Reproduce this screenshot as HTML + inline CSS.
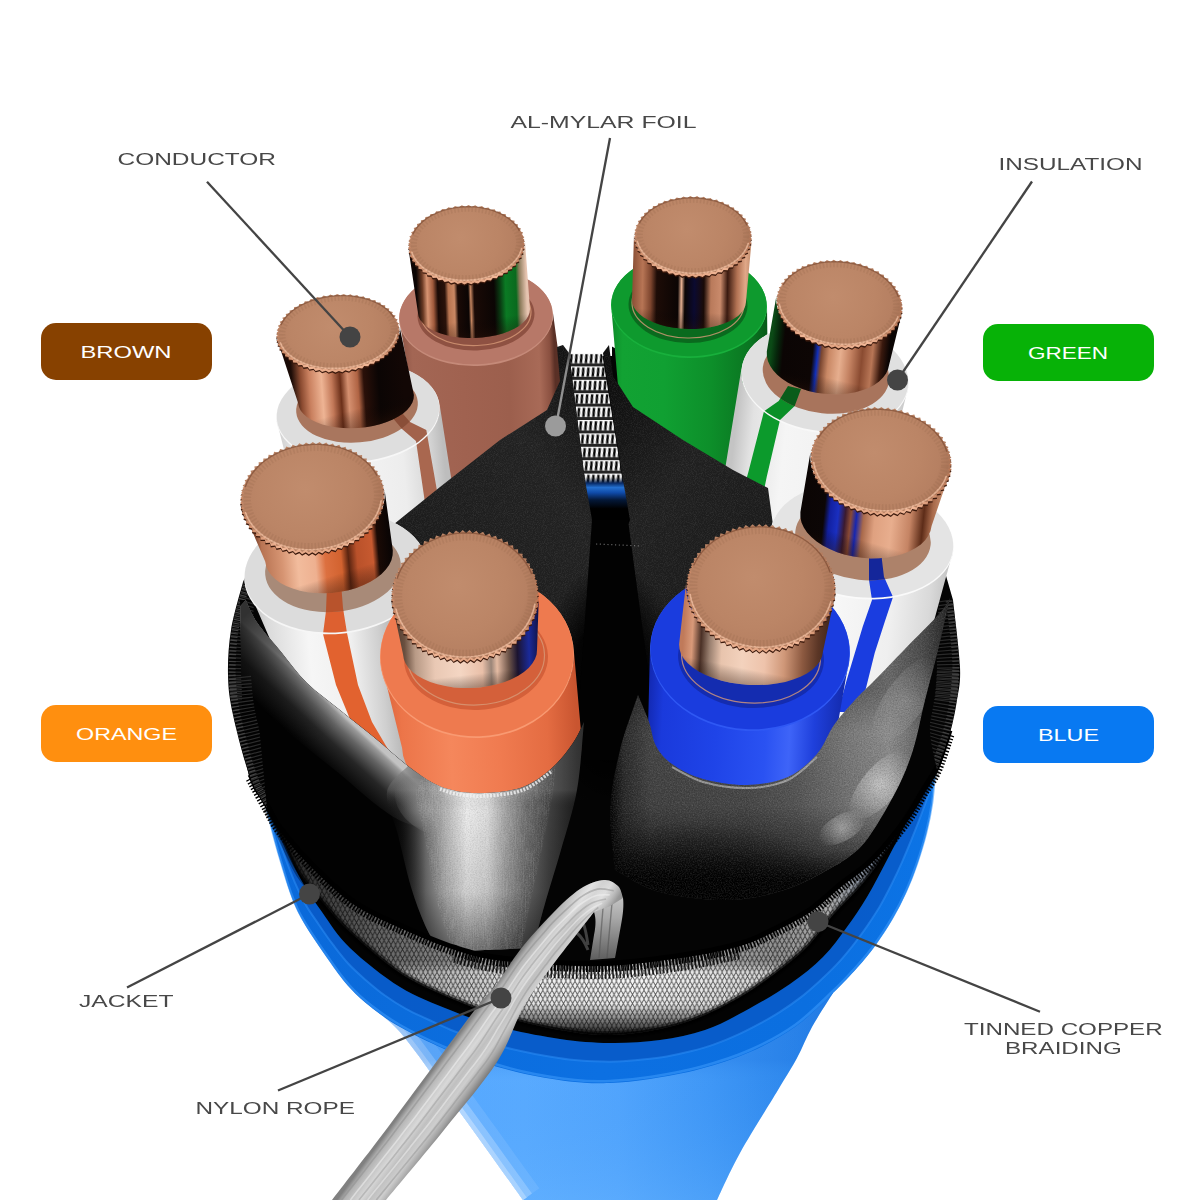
<!DOCTYPE html>
<html lang="en">
<head>
<meta charset="utf-8">
<title>Cable structure</title>
<style>
html,body{margin:0;padding:0;background:#fff;}
body{width:1200px;height:1200px;overflow:hidden;font-family:'Liberation Sans',sans-serif;}
svg{display:block;}
</style>
</head>
<body>
<svg width="1200" height="1200" viewBox="0 0 1200 1200">
<defs>
<linearGradient id="lg1" gradientUnits="userSpaceOnUse" x1="276.3" y1="419.1" x2="439.7" y2="404.9"><stop offset="0%" stop-color="#cfcfcf"/><stop offset="10%" stop-color="#e6e6e6"/><stop offset="35%" stop-color="#f6f6f6"/><stop offset="75%" stop-color="#ededed"/><stop offset="92%" stop-color="#d4d4d4"/><stop offset="100%" stop-color="#bdbdbd"/></linearGradient>
<clipPath id="cp2"><path d="M276.3,419.1 L303.3,526.7 L304.4,532.4 L306.9,537.8 L310.6,543 L315.5,547.7 L321.5,552 L328.5,555.7 L336.3,558.9 L345,561.3 L354.2,563.1 L363.9,564.1 L373.8,564.3 L383.8,563.8 L393.8,562.6 L403.6,560.6 L412.9,557.9 L421.7,554.6 L429.7,550.7 L437,546.2 L443.2,541.4 L448.3,536.1 L452.3,530.6 L455.1,524.9 L456.6,519.1 L456.7,513.3 L439.7,404.9 L439.6,411.4 L438,418 L435.1,424.5 L430.9,430.7 L425.5,436.7 L418.8,442.2 L411.2,447.2 L402.6,451.6 L393.3,455.3 L383.4,458.3 L373,460.5 L362.4,461.8 L351.7,462.3 L341.1,462 L330.8,460.8 L320.9,458.7 L311.7,455.9 L303.3,452.3 L295.8,448 L289.4,443.1 L284.2,437.7 L280.2,431.8 L277.6,425.6Z"/></clipPath>
<clipPath id="cp3"><ellipse cx="358" cy="412" rx="81.5" ry="49.2" transform="rotate(-5 358 412)" /></clipPath>
<clipPath id="cp4"><ellipse cx="357" cy="407" rx="61" ry="35.5" transform="rotate(-5 357 407)" /></clipPath>
<linearGradient id="lg5" gradientUnits="userSpaceOnUse" x1="276.2" y1="336.3" x2="399.8" y2="327.7"><stop offset="0%" stop-color="#140806"/><stop offset="10%" stop-color="#1c0c07"/><stop offset="17%" stop-color="#8a4a30"/><stop offset="24%" stop-color="#c9805f"/><stop offset="34%" stop-color="#eeb494"/><stop offset="42%" stop-color="#c27858"/><stop offset="49%" stop-color="#6b2f19"/><stop offset="55%" stop-color="#d59070"/><stop offset="63%" stop-color="#b06444"/><stop offset="68%" stop-color="#2a1009"/><stop offset="80%" stop-color="#0b0504"/><stop offset="100%" stop-color="#120705"/></linearGradient>
<linearGradient id="lg6" gradientUnits="userSpaceOnUse" x1="338" y1="354.8" x2="358" y2="427.9"><stop offset="0%" stop-color="#000" stop-opacity="0"/><stop offset="75%" stop-color="#000" stop-opacity="0"/><stop offset="100%" stop-color="#2a1208" stop-opacity="0.35"/></linearGradient>
<linearGradient id="lg7" gradientUnits="userSpaceOnUse" x1="276.2" y1="336.3" x2="399.8" y2="327.7"><stop offset="0%" stop-color="#c98663"/><stop offset="25%" stop-color="#f0b595"/><stop offset="50%" stop-color="#e3a482"/><stop offset="75%" stop-color="#f2b898"/><stop offset="100%" stop-color="#b87452"/></linearGradient>
<radialGradient id="rg8" gradientUnits="userSpaceOnUse" cx="331.8" cy="326.3" r="68.2"><stop offset="0%" stop-color="#c18c6d"/><stop offset="60%" stop-color="#bb8566"/><stop offset="85%" stop-color="#b68062"/><stop offset="100%" stop-color="#a97457"/></radialGradient>
<linearGradient id="lg9" gradientUnits="userSpaceOnUse" x1="399" y1="318.7" x2="553" y2="313.3"><stop offset="0%" stop-color="#8d5546"/><stop offset="8%" stop-color="#a36654"/><stop offset="40%" stop-color="#a06250"/><stop offset="70%" stop-color="#9c5f4d"/><stop offset="90%" stop-color="#a86a57"/><stop offset="97%" stop-color="#8a5040"/><stop offset="100%" stop-color="#5a3026"/></linearGradient>
<linearGradient id="lg10" gradientUnits="userSpaceOnUse" x1="408" y1="245.5" x2="525" y2="241.5"><stop offset="0%" stop-color="#100605"/><stop offset="6%" stop-color="#0b0504"/><stop offset="11%" stop-color="#6a3a24"/><stop offset="15%" stop-color="#d89472"/><stop offset="20%" stop-color="#a05a3c"/><stop offset="24%" stop-color="#1a0a06"/><stop offset="30%" stop-color="#2a120a"/><stop offset="33%" stop-color="#b87450"/><stop offset="38%" stop-color="#c98763"/><stop offset="41%" stop-color="#1a0a06"/><stop offset="50%" stop-color="#0b0504"/><stop offset="52%" stop-color="#c58560"/><stop offset="55%" stop-color="#1a0a06"/><stop offset="72%" stop-color="#0b0504"/><stop offset="77%" stop-color="#0a3a12"/><stop offset="82%" stop-color="#0b7a24"/><stop offset="91%" stop-color="#0a6a1e"/><stop offset="94%" stop-color="#8a7a5a"/><stop offset="100%" stop-color="#e6c4b0"/></linearGradient>
<linearGradient id="lg11" gradientUnits="userSpaceOnUse" x1="466.5" y1="266.6" x2="474.9" y2="338"><stop offset="0%" stop-color="#000" stop-opacity="0"/><stop offset="75%" stop-color="#000" stop-opacity="0"/><stop offset="100%" stop-color="#2a1208" stop-opacity="0.35"/></linearGradient>
<linearGradient id="lg12" gradientUnits="userSpaceOnUse" x1="408" y1="245.5" x2="525" y2="241.5"><stop offset="0%" stop-color="#c98663"/><stop offset="25%" stop-color="#f0b595"/><stop offset="50%" stop-color="#e3a482"/><stop offset="75%" stop-color="#f2b898"/><stop offset="100%" stop-color="#b87452"/></linearGradient>
<radialGradient id="rg13" gradientUnits="userSpaceOnUse" cx="460.6" cy="237.7" r="64.4"><stop offset="0%" stop-color="#c18c6d"/><stop offset="60%" stop-color="#bb8566"/><stop offset="85%" stop-color="#b68062"/><stop offset="100%" stop-color="#a97457"/></radialGradient>
<linearGradient id="lg14" gradientUnits="userSpaceOnUse" x1="611" y1="303.6" x2="767" y2="306.4"><stop offset="0%" stop-color="#0d8a28"/><stop offset="8%" stop-color="#12a233"/><stop offset="35%" stop-color="#10a032"/><stop offset="65%" stop-color="#0d8f2a"/><stop offset="90%" stop-color="#0a7521"/><stop offset="100%" stop-color="#075a18"/></linearGradient>
<linearGradient id="lg15" gradientUnits="userSpaceOnUse" x1="634" y1="234.5" x2="752" y2="236.5"><stop offset="0%" stop-color="#8e5238"/><stop offset="8%" stop-color="#b77555"/><stop offset="15%" stop-color="#7d452e"/><stop offset="20%" stop-color="#1d0c07"/><stop offset="38%" stop-color="#0b0504"/><stop offset="41%" stop-color="#e6b092"/><stop offset="44%" stop-color="#0b0504"/><stop offset="52%" stop-color="#0b0a30"/><stop offset="60%" stop-color="#1a0b07"/><stop offset="66%" stop-color="#b97a5b"/><stop offset="74%" stop-color="#c98a6b"/><stop offset="80%" stop-color="#3a1a10"/><stop offset="88%" stop-color="#b27253"/><stop offset="95%" stop-color="#e0a888"/><stop offset="100%" stop-color="#c08a6a"/></linearGradient>
<linearGradient id="lg16" gradientUnits="userSpaceOnUse" x1="693" y1="259.2" x2="688.5" y2="329"><stop offset="0%" stop-color="#000" stop-opacity="0"/><stop offset="75%" stop-color="#000" stop-opacity="0"/><stop offset="100%" stop-color="#2a1208" stop-opacity="0.35"/></linearGradient>
<linearGradient id="lg17" gradientUnits="userSpaceOnUse" x1="634" y1="234.5" x2="752" y2="236.5"><stop offset="0%" stop-color="#c98663"/><stop offset="25%" stop-color="#f0b595"/><stop offset="50%" stop-color="#e3a482"/><stop offset="75%" stop-color="#f2b898"/><stop offset="100%" stop-color="#b87452"/></linearGradient>
<radialGradient id="rg18" gradientUnits="userSpaceOnUse" cx="687.1" cy="229.6" r="64.9"><stop offset="0%" stop-color="#c18c6d"/><stop offset="60%" stop-color="#bb8566"/><stop offset="85%" stop-color="#b68062"/><stop offset="100%" stop-color="#a97457"/></radialGradient>
<linearGradient id="lg19" gradientUnits="userSpaceOnUse" x1="741.5" y1="368.2" x2="908.5" y2="385.8"><stop offset="0%" stop-color="#c4c4c4"/><stop offset="10%" stop-color="#e2e2e2"/><stop offset="30%" stop-color="#f5f5f5"/><stop offset="70%" stop-color="#f0f0f0"/><stop offset="90%" stop-color="#dcdcdc"/><stop offset="100%" stop-color="#c8c8c8"/></linearGradient>
<clipPath id="cp20"><path d="M741.5,368.2 L721.4,491.7 L721.4,498.3 L722.8,504.9 L725.4,511.4 L729.3,517.7 L734.5,523.7 L740.7,529.3 L748,534.4 L756.2,538.9 L765.1,542.8 L774.6,545.9 L784.6,548.2 L794.8,549.7 L805.1,550.4 L815.3,550.2 L825.2,549.1 L834.8,547.2 L843.7,544.5 L851.9,541 L859.1,536.8 L865.4,532 L870.6,526.7 L874.5,520.8 L877.2,514.7 L878.6,508.3 L908.5,385.8 L907.1,392.8 L904.2,399.6 L900,406 L894.5,412 L887.8,417.3 L880,421.9 L871.3,425.7 L861.8,428.8 L851.7,430.9 L841.1,432.1 L830.2,432.4 L819.3,431.7 L808.4,430.1 L797.8,427.6 L787.7,424.2 L778.3,420 L769.6,415.1 L761.9,409.5 L755.2,403.3 L749.8,396.7 L745.6,389.8 L742.8,382.7 L741.4,375.4Z"/></clipPath>
<clipPath id="cp21"><ellipse cx="825" cy="377" rx="83.5" ry="54.2" transform="rotate(6 825 377)" /></clipPath>
<clipPath id="cp22"><ellipse cx="826" cy="374" rx="63.5" ry="39.5" transform="rotate(6 826 374)" /></clipPath>
<linearGradient id="lg23" gradientUnits="userSpaceOnUse" x1="776.3" y1="296.4" x2="902.7" y2="309.6"><stop offset="0%" stop-color="#0b4a16"/><stop offset="5%" stop-color="#06260b"/><stop offset="10%" stop-color="#0b0504"/><stop offset="33%" stop-color="#0d0605"/><stop offset="37%" stop-color="#1230b8"/><stop offset="40%" stop-color="#7a4630"/><stop offset="46%" stop-color="#c98865"/><stop offset="55%" stop-color="#e6ae8e"/><stop offset="63%" stop-color="#c48262"/><stop offset="72%" stop-color="#8a4b31"/><stop offset="80%" stop-color="#b87656"/><stop offset="87%" stop-color="#3a190e"/><stop offset="93%" stop-color="#0b0504"/><stop offset="100%" stop-color="#0b0504"/></linearGradient>
<linearGradient id="lg24" gradientUnits="userSpaceOnUse" x1="839.5" y1="328.8" x2="824.2" y2="393.8"><stop offset="0%" stop-color="#000" stop-opacity="0"/><stop offset="75%" stop-color="#000" stop-opacity="0"/><stop offset="100%" stop-color="#2a1208" stop-opacity="0.35"/></linearGradient>
<linearGradient id="lg25" gradientUnits="userSpaceOnUse" x1="776.3" y1="296.4" x2="902.7" y2="309.6"><stop offset="0%" stop-color="#c98663"/><stop offset="25%" stop-color="#f0b595"/><stop offset="50%" stop-color="#e3a482"/><stop offset="75%" stop-color="#f2b898"/><stop offset="100%" stop-color="#b87452"/></linearGradient>
<radialGradient id="rg26" gradientUnits="userSpaceOnUse" cx="833.1" cy="296.6" r="69.9"><stop offset="0%" stop-color="#c18c6d"/><stop offset="60%" stop-color="#bb8566"/><stop offset="85%" stop-color="#b68062"/><stop offset="100%" stop-color="#a97457"/></radialGradient>
<linearGradient id="lg27" gradientUnits="userSpaceOnUse" x1="770.5" y1="530.4" x2="953.5" y2="549.6"><stop offset="0%" stop-color="#c9c9c9"/><stop offset="15%" stop-color="#e8e8e8"/><stop offset="40%" stop-color="#f7f7f7"/><stop offset="70%" stop-color="#efefef"/><stop offset="90%" stop-color="#d9d9d9"/><stop offset="100%" stop-color="#c2c2c2"/></linearGradient>
<clipPath id="cp28"><path d="M770.5,530.4 L748.5,671.2 L748.4,678.3 L749.8,685.4 L752.7,692.4 L756.8,699.2 L762.3,705.7 L768.9,711.8 L776.7,717.3 L785.3,722.1 L794.8,726.3 L804.9,729.6 L815.5,732.1 L826.4,733.7 L837.3,734.4 L848.2,734.1 L858.8,733 L868.9,730.9 L878.4,728 L887.1,724.2 L894.8,719.7 L901.5,714.5 L907,708.7 L911.2,702.4 L914.1,695.7 L915.5,688.8 L953.5,549.6 L951.9,557.1 L948.8,564.2 L944.2,571 L938.2,577.2 L930.9,582.7 L922.4,587.6 L912.9,591.6 L902.5,594.8 L891.4,597 L879.8,598.2 L867.9,598.4 L855.9,597.7 L844,595.9 L832.5,593.2 L821.4,589.6 L811,585.1 L801.5,579.9 L793,574 L785.7,567.5 L779.7,560.5 L775.1,553.2 L772.1,545.6 L770.5,538Z"/></clipPath>
<clipPath id="cp29"><ellipse cx="862" cy="540" rx="91.5" ry="57.2" transform="rotate(6 862 540)" /></clipPath>
<clipPath id="cp30"><ellipse cx="863" cy="538" rx="68" ry="42" transform="rotate(6 863 538)" /></clipPath>
<linearGradient id="lg31" gradientUnits="userSpaceOnUse" x1="810.4" y1="452.6" x2="951.6" y2="467.4"><stop offset="0%" stop-color="#0b0504"/><stop offset="14%" stop-color="#0c0606"/><stop offset="18%" stop-color="#1220a0"/><stop offset="24%" stop-color="#1a2fc0"/><stop offset="29%" stop-color="#3a1a30"/><stop offset="33%" stop-color="#8a4a34"/><stop offset="37%" stop-color="#1626b0"/><stop offset="42%" stop-color="#a8694b"/><stop offset="50%" stop-color="#dfa180"/><stop offset="62%" stop-color="#e8ae8e"/><stop offset="75%" stop-color="#c58464"/><stop offset="84%" stop-color="#5d2c18"/><stop offset="90%" stop-color="#a86a4b"/><stop offset="100%" stop-color="#d9a483"/></linearGradient>
<linearGradient id="lg32" gradientUnits="userSpaceOnUse" x1="881" y1="491.8" x2="861.9" y2="557.8"><stop offset="0%" stop-color="#000" stop-opacity="0"/><stop offset="75%" stop-color="#000" stop-opacity="0"/><stop offset="100%" stop-color="#2a1208" stop-opacity="0.35"/></linearGradient>
<linearGradient id="lg33" gradientUnits="userSpaceOnUse" x1="810.4" y1="452.6" x2="951.6" y2="467.4"><stop offset="0%" stop-color="#c98663"/><stop offset="25%" stop-color="#f0b595"/><stop offset="50%" stop-color="#e3a482"/><stop offset="75%" stop-color="#f2b898"/><stop offset="100%" stop-color="#b87452"/></linearGradient>
<radialGradient id="rg34" gradientUnits="userSpaceOnUse" cx="873.9" cy="452.1" r="78.1"><stop offset="0%" stop-color="#c18c6d"/><stop offset="60%" stop-color="#bb8566"/><stop offset="85%" stop-color="#b68062"/><stop offset="100%" stop-color="#a97457"/></radialGradient>
<linearGradient id="lg35" gradientUnits="userSpaceOnUse" x1="650.1" y1="644.8" x2="849.9" y2="655.2"><stop offset="0%" stop-color="#1228b0"/><stop offset="8%" stop-color="#1a3adc"/><stop offset="35%" stop-color="#1f44e8"/><stop offset="60%" stop-color="#2a52f2"/><stop offset="72%" stop-color="#3e64f8"/><stop offset="84%" stop-color="#1f40dc"/><stop offset="100%" stop-color="#1228a8"/></linearGradient>
<linearGradient id="lg36" gradientUnits="userSpaceOnUse" x1="686.1" y1="583.1" x2="835.9" y2="590.9"><stop offset="0%" stop-color="#c07a5a"/><stop offset="6%" stop-color="#d99a7a"/><stop offset="12%" stop-color="#4a3026"/><stop offset="18%" stop-color="#9a8070"/><stop offset="26%" stop-color="#e8c4ad"/><stop offset="40%" stop-color="#f3d2bd"/><stop offset="55%" stop-color="#eec3ab"/><stop offset="68%" stop-color="#cf9778"/><stop offset="80%" stop-color="#8d5a41"/><stop offset="90%" stop-color="#5b3626"/><stop offset="100%" stop-color="#3a2219"/></linearGradient>
<linearGradient id="lg37" gradientUnits="userSpaceOnUse" x1="761" y1="624.8" x2="749.1" y2="684.9"><stop offset="0%" stop-color="#000" stop-opacity="0"/><stop offset="75%" stop-color="#000" stop-opacity="0"/><stop offset="100%" stop-color="#2a1208" stop-opacity="0.35"/></linearGradient>
<linearGradient id="lg38" gradientUnits="userSpaceOnUse" x1="686.1" y1="583.1" x2="835.9" y2="590.9"><stop offset="0%" stop-color="#c98663"/><stop offset="25%" stop-color="#f0b595"/><stop offset="50%" stop-color="#e3a482"/><stop offset="75%" stop-color="#f2b898"/><stop offset="100%" stop-color="#b87452"/></linearGradient>
<radialGradient id="rg39" gradientUnits="userSpaceOnUse" cx="753.5" cy="577.5" r="82.5"><stop offset="0%" stop-color="#c18c6d"/><stop offset="60%" stop-color="#bb8566"/><stop offset="85%" stop-color="#b68062"/><stop offset="100%" stop-color="#a97457"/></radialGradient>
<linearGradient id="lg40" gradientUnits="userSpaceOnUse" x1="244.4" y1="580" x2="427.6" y2="564"><stop offset="0%" stop-color="#b4b4b4"/><stop offset="10%" stop-color="#dadada"/><stop offset="32%" stop-color="#f6f6f6"/><stop offset="55%" stop-color="#efefef"/><stop offset="70%" stop-color="#cfcfcf"/><stop offset="84%" stop-color="#a8a8a8"/><stop offset="100%" stop-color="#8e8e8e"/></linearGradient>
<clipPath id="cp41"><path d="M244.4,580 L329.3,776.6 L330.5,782.8 L333,788.8 L336.7,794.4 L341.5,799.6 L347.5,804.4 L354.4,808.5 L362.2,812 L370.8,814.7 L379.9,816.7 L389.4,817.9 L399.3,818.3 L409.2,817.8 L419,816.5 L428.6,814.5 L437.8,811.6 L446.5,808.1 L454.4,803.9 L461.5,799.1 L467.6,793.9 L472.7,788.2 L476.5,782.2 L479.2,776 L480.6,769.7 L480.7,763.4 L427.6,564 L427.6,572 L425.9,580 L422.7,587.8 L418,595.4 L411.9,602.6 L404.6,609.3 L396,615.3 L386.4,620.6 L376,625.1 L364.9,628.6 L353.2,631.2 L341.3,632.8 L329.3,633.3 L317.4,632.8 L305.8,631.2 L294.8,628.6 L284.4,625.1 L275,620.6 L266.5,615.4 L259.3,609.3 L253.4,602.7 L248.8,595.5 L245.8,587.9Z"/></clipPath>
<clipPath id="cp42"><ellipse cx="336" cy="572" rx="91.5" ry="60.2" transform="rotate(-5 336 572)" /></clipPath>
<clipPath id="cp43"><ellipse cx="333" cy="569" rx="68" ry="43" transform="rotate(-5 333 569)" /></clipPath>
<linearGradient id="lg44" gradientUnits="userSpaceOnUse" x1="240.3" y1="503.3" x2="384.7" y2="490.7"><stop offset="0%" stop-color="#2a120a"/><stop offset="6%" stop-color="#5a2a18"/><stop offset="12%" stop-color="#b87453"/><stop offset="25%" stop-color="#d69472"/><stop offset="36%" stop-color="#f2bc9d"/><stop offset="48%" stop-color="#eeb090"/><stop offset="55%" stop-color="#dc7040"/><stop offset="66%" stop-color="#d2622f"/><stop offset="71%" stop-color="#5a2410"/><stop offset="77%" stop-color="#b9512a"/><stop offset="88%" stop-color="#c75a30"/><stop offset="92%" stop-color="#1a0a05"/><stop offset="100%" stop-color="#0b0504"/></linearGradient>
<linearGradient id="lg45" gradientUnits="userSpaceOnUse" x1="312.5" y1="530" x2="332.2" y2="592.9"><stop offset="0%" stop-color="#000" stop-opacity="0"/><stop offset="75%" stop-color="#000" stop-opacity="0"/><stop offset="100%" stop-color="#2a1208" stop-opacity="0.35"/></linearGradient>
<linearGradient id="lg46" gradientUnits="userSpaceOnUse" x1="240.3" y1="503.3" x2="384.7" y2="490.7"><stop offset="0%" stop-color="#c98663"/><stop offset="25%" stop-color="#f0b595"/><stop offset="50%" stop-color="#e3a482"/><stop offset="75%" stop-color="#f2b898"/><stop offset="100%" stop-color="#b87452"/></linearGradient>
<radialGradient id="rg47" gradientUnits="userSpaceOnUse" cx="305.2" cy="488.8" r="79.8"><stop offset="0%" stop-color="#c18c6d"/><stop offset="60%" stop-color="#bb8566"/><stop offset="85%" stop-color="#b68062"/><stop offset="100%" stop-color="#a97457"/></radialGradient>
<linearGradient id="lg48" gradientUnits="userSpaceOnUse" x1="380.1" y1="658.4" x2="573.9" y2="651.6"><stop offset="0%" stop-color="#d9623a"/><stop offset="10%" stop-color="#ec7549"/><stop offset="35%" stop-color="#f5875c"/><stop offset="60%" stop-color="#f07b50"/><stop offset="85%" stop-color="#e46c42"/><stop offset="100%" stop-color="#c95530"/></linearGradient>
<linearGradient id="lg49" gradientUnits="userSpaceOnUse" x1="391" y1="597.6" x2="539" y2="592.4"><stop offset="0%" stop-color="#4a3428"/><stop offset="8%" stop-color="#6a5040"/><stop offset="15%" stop-color="#b89a86"/><stop offset="28%" stop-color="#e9c8b4"/><stop offset="45%" stop-color="#f4d6c3"/><stop offset="60%" stop-color="#e9bfa8"/><stop offset="66%" stop-color="#9a8578"/><stop offset="70%" stop-color="#e4bba3"/><stop offset="78%" stop-color="#6d5448"/><stop offset="84%" stop-color="#1c1430"/><stop offset="92%" stop-color="#1a2a9a"/><stop offset="100%" stop-color="#10103a"/></linearGradient>
<linearGradient id="lg50" gradientUnits="userSpaceOnUse" x1="465" y1="634" x2="471.3" y2="688"><stop offset="0%" stop-color="#000" stop-opacity="0"/><stop offset="75%" stop-color="#000" stop-opacity="0"/><stop offset="100%" stop-color="#2a1208" stop-opacity="0.35"/></linearGradient>
<linearGradient id="lg51" gradientUnits="userSpaceOnUse" x1="391" y1="597.6" x2="539" y2="592.4"><stop offset="0%" stop-color="#c98663"/><stop offset="25%" stop-color="#f0b595"/><stop offset="50%" stop-color="#e3a482"/><stop offset="75%" stop-color="#f2b898"/><stop offset="100%" stop-color="#b87452"/></linearGradient>
<radialGradient id="rg52" gradientUnits="userSpaceOnUse" cx="457.6" cy="585.2" r="81.4"><stop offset="0%" stop-color="#c18c6d"/><stop offset="60%" stop-color="#bb8566"/><stop offset="85%" stop-color="#b68062"/><stop offset="100%" stop-color="#a97457"/></radialGradient>
<filter id="nzw" x="0" y="0" width="1" height="1" color-interpolation-filters="sRGB"><feTurbulence type="fractalNoise" baseFrequency="0.75" numOctaves="2" seed="7" result="t"/><feColorMatrix in="t" type="matrix" values="0 0 0 0 1  0 0 0 0 1  0 0 0 0 1  1.6 0 0 0 -0.6"/></filter>
<filter id="nzk" x="0" y="0" width="1" height="1" color-interpolation-filters="sRGB"><feTurbulence type="fractalNoise" baseFrequency="0.75" numOctaves="2" seed="11" result="t"/><feColorMatrix in="t" type="matrix" values="0 0 0 0 0  0 0 0 0 0  0 0 0 0 0  1.6 0 0 0 -0.6"/></filter>
<filter id="nzv" x="0" y="0" width="1" height="1" color-interpolation-filters="sRGB"><feTurbulence type="fractalNoise" baseFrequency="0.9 0.06" numOctaves="2" seed="5" result="t"/><feColorMatrix in="t" type="matrix" values="0 0 0 0 1  0 0 0 0 1  0 0 0 0 1  1.6 0 0 0 -0.6"/></filter>
<filter id="nzf" x="0" y="0" width="1" height="1" color-interpolation-filters="sRGB"><feTurbulence type="fractalNoise" baseFrequency="1.1" numOctaves="2" seed="3" result="t"/><feColorMatrix in="t" type="matrix" values="0 0 0 0 1  0 0 0 0 1  0 0 0 0 1  1.4 0 0 0 -0.55"/></filter>
<linearGradient id="lg53" gradientUnits="userSpaceOnUse" x1="385" y1="0" x2="850" y2="0"><stop offset="0%" stop-color="#dcecff"/><stop offset="3.5%" stop-color="#8cc4ff"/><stop offset="9%" stop-color="#58aaff"/><stop offset="30%" stop-color="#5aabff"/><stop offset="50%" stop-color="#52a5fd"/><stop offset="70%" stop-color="#3f97f6"/><stop offset="88%" stop-color="#2d87ec"/><stop offset="100%" stop-color="#1f7ae4"/></linearGradient>
<clipPath id="cp54"><path d="M372,1008 C376.7,1012 388.7,1019.2 400,1032 C411.3,1044.8 426.7,1067 440,1085 C453.3,1103 466.2,1120.8 480,1140 C493.8,1159.2 515.8,1190 523,1200 L717,1200 C720.8,1192.2 729.8,1171.3 740,1153 C750.2,1134.7 768.5,1105.8 778,1090 C787.5,1074.2 791.3,1068.5 797,1058 C802.7,1047.5 806,1037.8 812,1027 C818,1016.2 829.5,998.7 833,993 L833,900 L372,900 Z"/></clipPath>
<linearGradient id="lg55" gradientUnits="userSpaceOnUse" x1="0" y1="1060" x2="0" y2="1200"><stop offset="0%" stop-color="#1a6fdc" stop-opacity="0.22"/><stop offset="15%" stop-color="#3b93f3" stop-opacity="0.05"/><stop offset="100%" stop-color="#6ab6ff" stop-opacity="0.3"/></linearGradient>
<linearGradient id="lg56" gradientUnits="userSpaceOnUse" x1="262" y1="0" x2="940" y2="0"><stop offset="0%" stop-color="#0a69da"/><stop offset="20%" stop-color="#0b6cdc"/><stop offset="50%" stop-color="#0c70e2"/><stop offset="80%" stop-color="#0b6fe0"/><stop offset="100%" stop-color="#0c74e6"/></linearGradient>
<clipPath id="cpSil"><path d="M243,582 C241,590 233.5,614.5 231,630 C228.5,645.5 227.7,660.8 228,675 C228.3,689.2 229.3,698 233,715 C236.7,732 244.3,761.5 250,777 C255.7,792.5 264.2,802.8 267,808 L267,808 C266.5,802.8 265.5,792.5 264,777 C262.5,761.5 259.7,732 258,715 C256.3,698 254.8,689.2 254,675 C253.2,660.8 252.8,645.5 253,630 C253.2,614.5 254.7,590 255,582 Z"/><path d="M953,600 C954.2,611.2 959.3,650.3 960,667 C960.7,683.7 958.7,689 957,700 C955.3,711 953.3,721.3 950,733 C946.7,744.7 939.2,763.8 937,770 L937,770 C935.8,763.8 930.8,744.7 930,733 C929.2,721.3 931.3,711 932,700 C932.7,689 932.8,683.7 934,667 C935.2,650.3 938.2,611.2 939,600 Z"/></clipPath>
<pattern id="mesh" width="5" height="13.4" patternUnits="userSpaceOnUse" patternTransform="translate(568 353) skewX(8)"><rect width="5" height="13.4" fill="#fafafa"/><path d="M0.2,10.4 L2.2,1.2 L4.6,1.2 L2.6,10.4 Z" fill="#050505"/><rect y="10.4" width="5" height="3" fill="#0c0c0c" fill-opacity="0.9"/></pattern>
<linearGradient id="lg57" gradientUnits="userSpaceOnUse" x1="0" y1="353" x2="0" y2="530"><stop offset="0%" stop-color="#000" stop-opacity="0.0"/><stop offset="70%" stop-color="#000" stop-opacity="0"/><stop offset="73.5%" stop-color="#082a66" stop-opacity="1"/><stop offset="76%" stop-color="#2470d0" stop-opacity="1"/><stop offset="79%" stop-color="#0f4aa8" stop-opacity="1"/><stop offset="83%" stop-color="#041838" stop-opacity="1"/><stop offset="88%" stop-color="#000" stop-opacity="1"/><stop offset="100%" stop-color="#000" stop-opacity="1"/></linearGradient>
<linearGradient id="lg58" gradientUnits="userSpaceOnUse" x1="410" y1="520" x2="600" y2="380"><stop offset="0%" stop-color="#1c1c1c"/><stop offset="60%" stop-color="#222222"/><stop offset="100%" stop-color="#111111"/></linearGradient>
<linearGradient id="lg59" gradientUnits="userSpaceOnUse" x1="610" y1="380" x2="780" y2="520"><stop offset="0%" stop-color="#0e0e0e"/><stop offset="50%" stop-color="#202020"/><stop offset="100%" stop-color="#1b1b1b"/></linearGradient>
<clipPath id="cpFoilU"><path d="M404,516 L440,487 L500,440 L547,410 L560,381 L557,347 L563,345 L569,353 L575,400 L585,480 L592,520 L606,560 L640,760 L300,760 L300,600 Z"/><path d="M609,345 L613,376 L633,407 L683,440 L733,470 L768,488 L775,540 L900,560 L900,760 L640,760 L612,560 L630,520 L623,480 L603,353 Z"/></clipPath>
<radialGradient id="rg60" gradientUnits="userSpaceOnUse" cx="610" cy="690" r="130" gradientTransform="translate(610 690) scale(0.55 1) translate(-610 -690)"><stop offset="0%" stop-color="#000" stop-opacity="1"/><stop offset="55%" stop-color="#000" stop-opacity="0.9"/><stop offset="100%" stop-color="#000" stop-opacity="0"/></radialGradient>
<clipPath id="cp61"><path d="M246,600 C247.8,603.7 251,613.2 257,622 C263,630.8 273.7,642.8 282,653 C290.3,663.2 297.3,673.5 307,683 C316.7,692.5 328.7,700.8 340,710 C351.3,719.2 363.7,728.7 375,738 C386.3,747.3 398.3,758.5 408,766 C417.7,773.5 425,778.8 433,783 C441,787.2 447.3,789.3 456,791 C464.7,792.7 473.8,793.7 485,793 C496.2,792.3 511.8,791.2 523,787 C534.2,782.8 543.7,775.3 552,768 C560.3,760.7 567.7,750.7 573,743 C578.3,735.3 582.2,725.5 584,722 C582.8,733.3 580.8,768.7 577,790 C573.2,811.3 566.2,831.7 561,850 C555.8,868.3 550.7,883.7 546,900 C541.3,916.3 535.2,940 533,948 L440,950 C427.8,944.5 389.7,930.8 367,917 C344.3,903.2 320.5,884.8 304,867 C287.5,849.2 277.7,827.8 268,810 C258.3,792.2 250.7,795 246,760 C241.3,725 241,626.7 240,600 Z"/></clipPath>
<linearGradient id="lg62" gradientUnits="userSpaceOnUse" x1="385" y1="0" x2="590" y2="0"><stop offset="0%" stop-color="#050505" stop-opacity="0"/><stop offset="8%" stop-color="#2a2a2a" stop-opacity="0.3"/><stop offset="20%" stop-color="#6e6e6e" stop-opacity="1"/><stop offset="30%" stop-color="#b8b8b8"/><stop offset="40%" stop-color="#ececec"/><stop offset="50%" stop-color="#dcdcdc"/><stop offset="58%" stop-color="#a6a6a6"/><stop offset="68%" stop-color="#707070"/><stop offset="80%" stop-color="#404040"/><stop offset="92%" stop-color="#1e1e1e"/><stop offset="100%" stop-color="#0a0a0a"/></linearGradient>
<linearGradient id="lg63" gradientUnits="userSpaceOnUse" x1="340" y1="712" x2="306" y2="749"><stop offset="0%" stop-color="#c2c2c2"/><stop offset="6%" stop-color="#9a9a9a"/><stop offset="25%" stop-color="#646464"/><stop offset="55%" stop-color="#262626"/><stop offset="100%" stop-color="#020202"/></linearGradient>
<linearGradient id="lg64" gradientUnits="userSpaceOnUse" x1="250" y1="610" x2="350" y2="715"><stop offset="0%" stop-color="#000" stop-opacity="0.75"/><stop offset="50%" stop-color="#000" stop-opacity="0.35"/><stop offset="100%" stop-color="#000" stop-opacity="0"/></linearGradient>
<linearGradient id="lg65" gradientUnits="userSpaceOnUse" x1="395" y1="0" x2="470" y2="0"><stop offset="0%" stop-color="#000" stop-opacity="0"/><stop offset="40%" stop-color="#9a9a9a" stop-opacity="0.0"/><stop offset="100%" stop-color="#d0d0d0" stop-opacity="0"/></linearGradient>
<radialGradient id="rg66" gradientUnits="userSpaceOnUse" cx="424" cy="806" r="34"><stop offset="0%" stop-color="#c8c8c8" stop-opacity="0.45"/><stop offset="50%" stop-color="#b0b0b0" stop-opacity="0.25"/><stop offset="100%" stop-color="#999" stop-opacity="0"/></radialGradient>
<linearGradient id="lg67" gradientUnits="userSpaceOnUse" x1="0" y1="790" x2="0" y2="960"><stop offset="0%" stop-color="#fff" stop-opacity="0.12"/><stop offset="12%" stop-color="#000" stop-opacity="0"/><stop offset="60%" stop-color="#000" stop-opacity="0.12"/><stop offset="100%" stop-color="#000" stop-opacity="0.6"/></linearGradient>
<clipPath id="cpTrunk"><path d="M408,766 C412.2,768.8 425,778.8 433,783 C441,787.2 447.3,789.3 456,791 C464.7,792.7 473.8,793.7 485,793 C496.2,792.3 511.8,791.2 523,787 C534.2,782.8 543.7,775.3 552,768 C560.3,760.7 567.7,750.7 573,743 C578.3,735.3 582.2,725.5 584,722 L584,722 C582.8,733.3 580.8,768.7 577,790 C573.2,811.3 566.2,831.7 561,850 C555.8,868.3 550.7,883.7 546,900 C541.3,916.3 535.2,940 533,948 L533,948 C517.5,948.7 455.5,951.3 440,952 L440,952 C437.5,947.5 429.8,935.8 425,925 C420.2,914.2 415.5,902 411,887 C406.5,872 402,850.8 398,835 C394,819.2 385.3,803.5 387,792 C388.7,780.5 404.5,770.3 408,766 Z"/></clipPath>
<clipPath id="cpTrunkIn"><path d="M408,766 C412.2,768.8 425,778.8 433,783 C441,787.2 447.3,789.3 456,791 C464.7,792.7 473.8,793.7 485,793 C496.2,792.3 511.8,791.2 523,787 C534.2,782.8 543.7,775.3 552,768 C560.3,760.7 567.7,750.7 573,743 C578.3,735.3 582.2,725.5 584,722 L584,722 C582.8,733.3 580.8,768.7 577,790 C573.2,811.3 566.2,831.7 561,850 C555.8,868.3 550.7,883.7 546,900 C541.3,916.3 535.2,940 533,948 L533,948 C517.5,948.7 455.5,951.3 440,952 L440,952 C437.5,947.5 429.8,935.8 425,925 C420.2,914.2 415.5,902 411,887 C406.5,872 402,850.8 398,835 C394,819.2 385.3,803.5 387,792 C388.7,780.5 404.5,770.3 408,766 Z" transform="translate(492 0) scale(0.72 1) translate(-492 0)"/></clipPath>
<clipPath id="cp68"><path d="M638,695 C639.8,699.5 646,713.5 649,722 C652,730.5 652.2,739 656,746 C659.8,753 664.2,758.5 672,764 C679.8,769.5 690.5,775.5 703,779 C715.5,782.5 732.8,785.3 747,785 C761.2,784.7 776.3,782.2 788,777 C799.7,771.8 809.3,762.7 817,754 C824.7,745.3 827.7,734 834,725 C840.3,716 848.2,707.5 855,700 C861.8,692.5 866.7,688.5 875,680 C883.3,671.5 894.2,660.2 905,649 C915.8,637.8 932.5,621.5 940,613 C947.5,604.5 948.3,600.5 950,598 C948,606.7 942.2,633 938,650 C933.8,667 929.2,683.3 925,700 C920.8,716.7 918,734.5 913,750 C908,765.5 903,777.7 895,793 C887,808.3 874.2,830.3 865,842 C855.8,853.7 844.2,859.5 840,863 C831.7,867.2 808.3,881.8 790,888 C771.7,894.2 751.7,899.3 730,900 C708.3,900.7 679.2,897 660,892 C640.8,887 622.5,873.7 615,870 C614.2,860 609.2,830 610,810 C610.8,790 615.3,769.2 620,750 C624.7,730.8 635,704.2 638,695 Z"/></clipPath>
<linearGradient id="lg69" gradientUnits="userSpaceOnUse" x1="610" y1="0" x2="950" y2="0"><stop offset="0%" stop-color="#050505"/><stop offset="4%" stop-color="#2c2c2c"/><stop offset="12%" stop-color="#484848"/><stop offset="40%" stop-color="#4e4e4e"/><stop offset="55%" stop-color="#5e5e5e"/><stop offset="70%" stop-color="#808080"/><stop offset="82%" stop-color="#949494"/><stop offset="92%" stop-color="#6a6a6a"/><stop offset="100%" stop-color="#303030"/></linearGradient>
<linearGradient id="lg70" gradientUnits="userSpaceOnUse" x1="0" y1="690" x2="0" y2="900"><stop offset="0%" stop-color="#000" stop-opacity="0.3"/><stop offset="20%" stop-color="#000" stop-opacity="0.05"/><stop offset="55%" stop-color="#000" stop-opacity="0.12"/><stop offset="76%" stop-color="#000" stop-opacity="0.5"/><stop offset="90%" stop-color="#000" stop-opacity="0.96"/><stop offset="100%" stop-color="#000" stop-opacity="1"/></linearGradient>
<radialGradient id="rg71" gradientUnits="userSpaceOnUse" cx="880" cy="785" r="42"><stop offset="0%" stop-color="#e0e0e0" stop-opacity="0.7"/><stop offset="100%" stop-color="#d0d0d0" stop-opacity="0"/></radialGradient>
<radialGradient id="rg72" gradientUnits="userSpaceOnUse" cx="842" cy="828" r="26"><stop offset="0%" stop-color="#d0d0d0" stop-opacity="0.6"/><stop offset="100%" stop-color="#c0c0c0" stop-opacity="0"/></radialGradient>
<radialGradient id="rg73" gradientUnits="userSpaceOnUse" cx="905" cy="700" r="50"><stop offset="0%" stop-color="#aaaaaa" stop-opacity="0.5"/><stop offset="100%" stop-color="#aaaaaa" stop-opacity="0"/></radialGradient>
<radialGradient id="rg74" gradientUnits="userSpaceOnUse" cx="690" cy="885" r="150" gradientTransform="translate(690 885) scale(1 0.42) translate(-690 -885)"><stop offset="0%" stop-color="#000" stop-opacity="0.75"/><stop offset="50%" stop-color="#000" stop-opacity="0.45"/><stop offset="100%" stop-color="#000" stop-opacity="0"/></radialGradient>
<linearGradient id="lg75" gradientUnits="userSpaceOnUse" x1="0" y1="890" x2="0" y2="960"><stop offset="0%" stop-color="#cfcfcf"/><stop offset="40%" stop-color="#a8a8a8"/><stop offset="100%" stop-color="#5e5e5e"/></linearGradient>
<linearGradient id="lg76" gradientUnits="userSpaceOnUse" x1="267" y1="0" x2="937" y2="0"><stop offset="0%" stop-color="#1c1c1c"/><stop offset="6%" stop-color="#484848"/><stop offset="16%" stop-color="#8a8a8a"/><stop offset="28%" stop-color="#c4c4c4"/><stop offset="40%" stop-color="#f0f0f0"/><stop offset="55%" stop-color="#fafafa"/><stop offset="68%" stop-color="#e6e6e6"/><stop offset="76%" stop-color="#d0d0d0"/><stop offset="84%" stop-color="#f6f6f6"/><stop offset="90%" stop-color="#b4c4dc"/><stop offset="95%" stop-color="#5a7ab0"/><stop offset="100%" stop-color="#202838"/></linearGradient>
<pattern id="hatch" width="4.6" height="9" patternUnits="userSpaceOnUse"><path d="M-1,-1.5 L5.6,10.5 M-1,10.5 L5.6,-1.5" stroke="#000" stroke-width="0.95" fill="none"/></pattern>
<linearGradient id="lg77" gradientUnits="userSpaceOnUse" x1="0" y1="962" x2="0" y2="1038"><stop offset="0%" stop-color="#000" stop-opacity="0.3"/><stop offset="15%" stop-color="#000" stop-opacity="0"/><stop offset="55%" stop-color="#000" stop-opacity="0.05"/><stop offset="82%" stop-color="#000" stop-opacity="0.6"/><stop offset="100%" stop-color="#000" stop-opacity="1"/></linearGradient>
<linearGradient id="lg78" gradientUnits="userSpaceOnUse" x1="462" y1="1030" x2="500" y2="1058"><stop offset="0%" stop-color="#808080"/><stop offset="10%" stop-color="#b0b0b0"/><stop offset="25%" stop-color="#c4c4c4"/><stop offset="40%" stop-color="#d8d8d8"/><stop offset="55%" stop-color="#c0c0c0"/><stop offset="72%" stop-color="#cecece"/><stop offset="88%" stop-color="#a4a4a4"/><stop offset="100%" stop-color="#7c7c7c"/></linearGradient>
<radialGradient id="rg79" gradientUnits="userSpaceOnUse" cx="600" cy="895" r="40"><stop offset="0%" stop-color="#ffffff" stop-opacity="0.4"/><stop offset="100%" stop-color="#ffffff" stop-opacity="0"/></radialGradient>
<linearGradient id="lg80" gradientUnits="userSpaceOnUse" x1="610" y1="138" x2="556" y2="426"><stop offset="0%" stop-color="#444"/><stop offset="74%" stop-color="#444"/><stop offset="80%" stop-color="#8a8a8a"/><stop offset="100%" stop-color="#9a9a9a"/></linearGradient>
</defs>
<rect width="1200" height="1200" fill="#ffffff"/>
<g id="cable">
<path d="M372,1008 C376.7,1012 388.7,1019.2 400,1032 C411.3,1044.8 426.7,1067 440,1085 C453.3,1103 466.2,1120.8 480,1140 C493.8,1159.2 515.8,1190 523,1200 L717,1200 C720.8,1192.2 729.8,1171.3 740,1153 C750.2,1134.7 768.5,1105.8 778,1090 C787.5,1074.2 791.3,1068.5 797,1058 C802.7,1047.5 806,1037.8 812,1027 C818,1016.2 829.5,998.7 833,993 L833,900 L372,900 Z" fill="url(#lg53)"/>
<g clip-path="url(#cp54)"><path d="M372,1008 C376.7,1012 388.7,1019.2 400,1032 C411.3,1044.8 426.7,1067 440,1085 C453.3,1103 466.2,1120.8 480,1140 C493.8,1159.2 515.8,1190 523,1200" fill="none" stroke="#ffffff" stroke-width="9" stroke-opacity="0.85"/><path d="M372,1008 C376.7,1012 388.7,1019.2 400,1032 C411.3,1044.8 426.7,1067 440,1085 C453.3,1103 466.2,1120.8 480,1140 C493.8,1159.2 515.8,1190 523,1200" fill="none" stroke="#cfe6ff" stroke-width="22" stroke-opacity="0.55"/><path d="M372,1008 C376.7,1012 388.7,1019.2 400,1032 C411.3,1044.8 426.7,1067 440,1085 C453.3,1103 466.2,1120.8 480,1140 C493.8,1159.2 515.8,1190 523,1200" fill="none" stroke="#8fc6ff" stroke-width="40" stroke-opacity="0.35"/></g>
<path d="M372,1008 C376.7,1012 388.7,1019.2 400,1032 C411.3,1044.8 426.7,1067 440,1085 C453.3,1103 466.2,1120.8 480,1140 C493.8,1159.2 515.8,1190 523,1200 L717,1200 C720.8,1192.2 729.8,1171.3 740,1153 C750.2,1134.7 768.5,1105.8 778,1090 C787.5,1074.2 791.3,1068.5 797,1058 C802.7,1047.5 806,1037.8 812,1027 C818,1016.2 829.5,998.7 833,993 L833,900 L372,900 Z" fill="url(#lg55)"/>
<path d="M262,790 C263,794.2 265,803.3 268,815 C271,826.7 275,843.8 280,860 C285,876.2 289.7,895 298,912 C306.3,929 321.3,949.3 330,962 C338.7,974.7 343,980.3 350,988 C357,995.7 363.7,1001.5 372,1008 C380.3,1014.5 388.3,1020.3 400,1027 C411.7,1033.7 429.5,1042.5 442,1048 C454.5,1053.5 461.2,1055.7 475,1060 C488.8,1064.3 508.3,1070.3 525,1074 C541.7,1077.7 560.8,1080.5 575,1082 C589.2,1083.5 597.5,1083.5 610,1083 C622.5,1082.5 635,1081.3 650,1079 C665,1076.7 683.3,1073.5 700,1069 C716.7,1064.5 734.2,1059 750,1052 C765.8,1045 781.2,1036.8 795,1027 C808.8,1017.2 822.7,1002.8 833,993 C843.3,983.2 850,975.8 857,968 C864,960.2 869.2,954 875,946 C880.8,938 886.8,928.8 892,920 C897.2,911.2 901.8,902.2 906,893 C910.2,883.8 913.7,874.7 917,865 C920.3,855.3 923.5,845 926,835 C928.5,825 930.5,815.3 932,805 C933.5,794.7 934.5,778.3 935,773 L935,700 L262,700 Z" fill="url(#lg56)"/>
<path d="M262,790 C263,794.2 265,803.3 268,815 C271,826.7 275,843.8 280,860 C285,876.2 289.7,895 298,912 C306.3,929 321.3,949.3 330,962 C338.7,974.7 343,980.3 350,988 C357,995.7 363.7,1001.5 372,1008 C380.3,1014.5 388.3,1020.3 400,1027 C411.7,1033.7 429.5,1042.5 442,1048 C454.5,1053.5 461.2,1055.7 475,1060 C488.8,1064.3 508.3,1070.3 525,1074 C541.7,1077.7 560.8,1080.5 575,1082 C589.2,1083.5 597.5,1083.5 610,1083 C622.5,1082.5 635,1081.3 650,1079 C665,1076.7 683.3,1073.5 700,1069 C716.7,1064.5 734.2,1059 750,1052 C765.8,1045 781.2,1036.8 795,1027 C808.8,1017.2 822.7,1002.8 833,993 C843.3,983.2 850,975.8 857,968 C864,960.2 869.2,954 875,946 C880.8,938 886.8,928.8 892,920 C897.2,911.2 901.8,902.2 906,893 C910.2,883.8 913.7,874.7 917,865 C920.3,855.3 923.5,845 926,835 C928.5,825 930.5,815.3 932,805 C933.5,794.7 934.5,778.3 935,773" fill="none" stroke="#3a97fa" stroke-width="2.5" stroke-opacity="0.6" transform="translate(0,-2)"/>
<path d="M262,790 C263.3,793 266.3,799.3 270,808 C273.7,816.7 279,830.3 284,842 C289,853.7 293.7,866.3 300,878 C306.3,889.7 313.7,900.3 322,912 C330.3,923.7 337,935.5 350,948 C363,960.5 383.3,976.7 400,987 C416.7,997.3 433.3,1003.3 450,1010 C466.7,1016.7 481.7,1022.2 500,1027 C518.3,1031.8 541.7,1036.3 560,1039 C578.3,1041.7 593.3,1042.8 610,1043 C626.7,1043.2 644.2,1042.2 660,1040 C675.8,1037.8 690.8,1034.8 705,1030 C719.2,1025.2 730.8,1018.7 745,1011 C759.2,1003.3 777,993 790,984 C803,975 813.5,966.5 823,957 C832.5,947.5 839.7,937 847,927 C854.3,917 860.3,908.2 867,897 C873.7,885.8 880.7,872 887,860 C893.3,848 899.2,835.8 905,825 C910.8,814.2 916.7,804.2 922,795 C927.3,785.8 934.5,774.2 937,770 L936,771.4 C934.8,775.2 931.2,786.6 928.6,794.2 C926,801.8 923.2,809.3 920.4,816.9 C917.5,824.5 914.5,832 911.5,839.5 C908.4,847.1 905.3,854.6 902,862.1 C898.7,869.6 895.2,877 891.6,884.3 C887.9,891.6 884.2,898.9 880.1,906 C876,913 871.4,919.8 866.8,926.6 C862.1,933.3 857.3,939.9 852.2,946.3 C847.1,952.7 841.9,959 836.3,964.9 C830.7,970.9 824.7,976.4 818.7,981.9 C812.6,987.4 806.5,992.9 800,997.9 C793.6,1002.9 786.9,1007.5 780,1011.9 C773.2,1016.3 766,1020.3 758.8,1024.2 C751.6,1028.1 744.3,1031.9 736.9,1035.2 C729.5,1038.6 721.9,1041.8 714.2,1044.4 C706.5,1047.1 698.6,1049.3 690.7,1051.3 C682.8,1053.3 674.8,1055 666.7,1056.4 C658.7,1057.8 650.6,1058.7 642.4,1059.6 C634.3,1060.5 626.1,1061.3 618,1061.5 C609.8,1061.8 601.7,1061.6 593.5,1061.3 C585.3,1060.9 577.2,1060.4 569,1059.5 C560.9,1058.6 552.8,1057.2 544.8,1055.8 C536.7,1054.4 528.7,1052.8 520.7,1051 C512.8,1049.3 504.8,1047.5 496.9,1045.3 C489,1043.1 481.3,1040.4 473.5,1037.8 C465.8,1035.2 457.9,1032.8 450.4,1029.7 C442.8,1026.6 435.5,1023 428.1,1019.5 C420.7,1016 413.1,1012.8 406,1008.8 C398.9,1004.9 391.9,1000.6 385.3,995.8 C378.7,991.1 372.4,985.7 366.2,980.4 C360.1,975 353.9,969.7 348.4,963.7 C342.9,957.8 338,951.2 333,944.7 C328.1,938.2 323.5,931.5 318.9,924.7 C314.3,917.9 309.4,911.3 305.4,904.2 C301.4,897.1 298.1,889.7 294.8,882.3 C291.5,874.8 288.7,867.1 285.8,859.5 C282.9,851.8 280.3,844.1 277.6,836.4 C275,828.7 272.4,820.9 269.8,813.2 C267.2,805.4 263.3,793.9 262,790 Z" fill="#0858c4" fill-opacity="0.8"/>
<path d="M262,790 C263.3,793.9 267.2,805.4 269.8,813.2 C272.4,820.9 275,828.7 277.6,836.4 C280.3,844.1 282.9,851.8 285.8,859.5 C288.7,867.1 291.5,874.8 294.8,882.3 C298.1,889.7 301.4,897.1 305.4,904.2 C309.4,911.3 314.3,917.9 318.9,924.7 C323.5,931.5 328.1,938.2 333,944.7 C338,951.2 342.9,957.8 348.4,963.7 C353.9,969.7 360.1,975 366.2,980.4 C372.4,985.7 378.7,991.1 385.3,995.8 C391.9,1000.6 398.9,1004.9 406,1008.8 C413.1,1012.8 420.7,1016 428.1,1019.5 C435.5,1023 442.8,1026.6 450.4,1029.7 C457.9,1032.8 465.8,1035.2 473.5,1037.8 C481.3,1040.4 489,1043.1 496.9,1045.3 C504.8,1047.5 512.8,1049.3 520.7,1051 C528.7,1052.8 536.7,1054.4 544.8,1055.8 C552.8,1057.2 560.9,1058.6 569,1059.5 C577.2,1060.4 585.3,1060.9 593.5,1061.3 C601.7,1061.6 609.8,1061.8 618,1061.5 C626.1,1061.3 634.3,1060.5 642.4,1059.6 C650.6,1058.7 658.7,1057.8 666.7,1056.4 C674.8,1055 682.8,1053.3 690.7,1051.3 C698.6,1049.3 706.5,1047.1 714.2,1044.4 C721.9,1041.8 729.5,1038.6 736.9,1035.2 C744.3,1031.9 751.6,1028.1 758.8,1024.2 C766,1020.3 773.2,1016.3 780,1011.9 C786.9,1007.5 793.6,1002.9 800,997.9 C806.5,992.9 812.6,987.4 818.7,981.9 C824.7,976.4 830.7,970.9 836.3,964.9 C841.9,959 847.1,952.7 852.2,946.3 C857.3,939.9 862.1,933.3 866.8,926.6 C871.4,919.8 876,913 880.1,906 C884.2,898.9 887.9,891.6 891.6,884.3 C895.2,877 898.7,869.6 902,862.1 C905.3,854.6 908.4,847.1 911.5,839.5 C914.5,832 917.5,824.5 920.4,816.9 C923.2,809.3 926,801.8 928.6,794.2 C931.2,786.6 934.8,775.2 936,771.4" fill="none" stroke="#2b8cf4" stroke-width="2" stroke-opacity="0.55"/>
<path d="M262,790 C263.3,793 266.3,799.3 270,808 C273.7,816.7 279,830.3 284,842 C289,853.7 293.7,866.3 300,878 C306.3,889.7 313.7,900.3 322,912 C330.3,923.7 337,935.5 350,948 C363,960.5 383.3,976.7 400,987 C416.7,997.3 433.3,1003.3 450,1010 C466.7,1016.7 481.7,1022.2 500,1027 C518.3,1031.8 541.7,1036.3 560,1039 C578.3,1041.7 593.3,1042.8 610,1043 C626.7,1043.2 644.2,1042.2 660,1040 C675.8,1037.8 690.8,1034.8 705,1030 C719.2,1025.2 730.8,1018.7 745,1011 C759.2,1003.3 777,993 790,984 C803,975 813.5,966.5 823,957 C832.5,947.5 839.7,937 847,927 C854.3,917 860.3,908.2 867,897 C873.7,885.8 880.7,872 887,860 C893.3,848 899.2,835.8 905,825 C910.8,814.2 916.7,804.2 922,795 C927.3,785.8 934.5,774.2 937,770 L953,600 L243,582 Z" fill="#030303"/>
<path d="M243,582 C241,590 233.5,614.5 231,630 C228.5,645.5 227.7,660.8 228,675 C228.3,689.2 229.3,698 233,715 C236.7,732 244.3,761.5 250,777 C255.7,792.5 262,799.2 267,808 C272,816.8 272.5,820.2 280,830 C287.5,839.8 299.5,854.5 312,867 C324.5,879.5 339.5,894.5 355,905 C370.5,915.5 388.3,922.5 405,930 C421.7,937.5 438.3,944.8 455,950 C471.7,955.2 480.8,958.3 505,961 C529.2,963.7 570.8,966.5 600,966 C629.2,965.5 656.7,961.3 680,958 C703.3,954.7 724.5,950.3 740,946 C755.5,941.7 761.3,937.7 773,932 C784.7,926.3 798.8,919.5 810,912 C821.2,904.5 829.5,895.5 840,887 C850.5,878.5 861.8,872.2 873,861 C884.2,849.8 898.7,831.3 907,820 C915.3,808.7 918,801.3 923,793 C928,784.7 932.5,780 937,770 C941.5,760 946.7,744.7 950,733 C953.3,721.3 955.3,711 957,700 C958.7,689 960.7,683.7 960,667 C959.3,650.3 954.2,611.2 953,600 L930,520 L600,340 L270,520 Z" fill="#040404"/>
<g clip-path="url(#cpSil)"><path d="M243,582 C241,590 233.5,614.5 231,630 C228.5,645.5 228.2,663.3 228,675 C227.8,686.7 229.7,695.8 230,700" fill="none" stroke="#2c2c2c" stroke-width="22" stroke-dasharray="1.2 2.3" transform="translate(12,0)"/></g>
<g clip-path="url(#cpSil)"><path d="M243,582 C241,590 233.5,614.5 231,630 C228.5,645.5 228.2,663.3 228,675 C227.8,686.7 229.7,695.8 230,700" fill="none" stroke="#444" stroke-width="7" stroke-dasharray="1.2 2.3" transform="translate(4,0)"/></g>
<g clip-path="url(#cpSil)"><path d="M958,700 C958.3,694.5 960.2,678.7 960,667 C959.8,655.3 958.2,641.2 957,630 C955.8,618.8 953.7,605 953,600" fill="none" stroke="#2a2a2a" stroke-width="22" stroke-dasharray="1.2 2.3" transform="translate(-12,0)"/></g>
<g clip-path="url(#cpSil)"><path d="M958,700 C958.3,694.5 960.2,678.7 960,667 C959.8,655.3 958.2,641.2 957,630 C955.8,618.8 953.7,605 953,600" fill="none" stroke="#404040" stroke-width="7" stroke-dasharray="1.2 2.3" transform="translate(-4,0)"/></g>
<polygon points="556,330 612,330 612,356 556,356" fill="#fff"/>
<polygon points="569,353 602,353 623,483 585,483" fill="url(#mesh)"/>
<polygon points="566,353 605,353 632,530 583,530" fill="url(#lg57)"/>
<path d="M586,483 L632,483 L634,510 L590,510 Z" fill="none" stroke="#000" stroke-opacity="0.35" stroke-width="0"/>
<path d="M399,318.7 L426,472.6 L426.9,478.3 L429,483.9 L432.3,489.2 L436.7,494.2 L442.3,498.8 L448.8,502.9 L456.2,506.5 L464.4,509.4 L473.1,511.6 L482.3,513.1 L491.9,513.9 L501.5,514 L511.2,513.3 L520.6,511.8 L529.7,509.6 L538.3,506.8 L546.2,503.3 L553.4,499.3 L559.6,494.7 L564.8,489.8 L568.9,484.4 L571.8,478.9 L573.5,473.2 L574,467.4 L553,313.3 L552.5,319.7 L550.8,326.1 L547.7,332.3 L543.5,338.2 L538.1,343.7 L531.6,348.7 L524.2,353.2 L516,357.1 L507,360.2 L497.6,362.6 L487.7,364.2 L477.7,365 L467.7,364.9 L457.7,364 L448.1,362.3 L439,359.8 L430.5,356.5 L422.8,352.5 L416,347.9 L410.2,342.8 L405.6,337.2 L402.1,331.3 L399.9,325.1Z" fill="url(#lg9)"/>
<ellipse cx="476" cy="317" rx="77" ry="49" transform="rotate(-2 476 317)" fill="#c58a79"/>
<ellipse cx="476" cy="316" rx="76.5" ry="48.2" transform="rotate(-2 476 316)" fill="#b77868"/>
<ellipse cx="476" cy="315" rx="58.5" ry="35.5" transform="rotate(-2 476 315)" fill="#8e5142"/>
<ellipse cx="476" cy="313.5" rx="55" ry="32" transform="rotate(-2 476 313.5)" fill="none" stroke="#d79a78" stroke-width="1.2" stroke-opacity="0.8"/>
<path d="M408,245.5 L418,313 L418.6,316.5 L420.2,319.9 L422.7,323.1 L426,326.2 L430.2,329 L435.1,331.5 L440.7,333.6 L446.8,335.3 L453.5,336.7 L460.4,337.6 L467.6,338 L474.9,338 L482.2,337.5 L489.4,336.6 L496.3,335.2 L502.8,333.4 L508.8,331.2 L514.2,328.7 L519,325.9 L522.9,322.8 L526.1,319.5 L528.3,316.1 L529.6,312.6 L530,309 L525,241.5 L524.6,246.5 L523.3,251.5 L521,256.3 L517.8,261 L513.7,265.3 L508.8,269.3 L503.2,272.8 L496.9,275.8 L490.1,278.3 L482.9,280.1 L475.5,281.4 L467.8,282 L460.2,281.9 L452.7,281.2 L445.4,279.8 L438.4,277.8 L432,275.3 L426.1,272.2 L420.9,268.5 L416.5,264.5 L413,260.1 L410.4,255.4 L408.7,250.5Z" fill="url(#lg10)"/>
<path d="M408,245.5 L418,313 L418.6,316.5 L420.2,319.9 L422.7,323.1 L426,326.2 L430.2,329 L435.1,331.5 L440.7,333.6 L446.8,335.3 L453.5,336.7 L460.4,337.6 L467.6,338 L474.9,338 L482.2,337.5 L489.4,336.6 L496.3,335.2 L502.8,333.4 L508.8,331.2 L514.2,328.7 L519,325.9 L522.9,322.8 L526.1,319.5 L528.3,316.1 L529.6,312.6 L530,309 L525,241.5 L524.6,246.5 L523.3,251.5 L521,256.3 L517.8,261 L513.7,265.3 L508.8,269.3 L503.2,272.8 L496.9,275.8 L490.1,278.3 L482.9,280.1 L475.5,281.4 L467.8,282 L460.2,281.9 L452.7,281.2 L445.4,279.8 L438.4,277.8 L432,275.3 L426.1,272.2 L420.9,268.5 L416.5,264.5 L413,260.1 L410.4,255.4 L408.7,250.5Z" fill="url(#lg11)"/>
<polygon points="525,245.3 522.6,247.5 524.7,249.7 522,251.8 523.7,254.2 520.6,256 521.9,258.5 518.5,260.1 519.3,262.7 515.8,264.1 516.1,266.7 512.3,267.8 512.1,270.5 508.2,271.2 507.6,273.9 503.6,274.3 502.5,276.9 498.4,277.1 496.9,279.6 492.8,279.4 490.9,281.8 486.9,281.3 484.6,283.6 480.7,282.8 478,284.8 474.3,283.8 471.2,285.6 467.8,284.2 464.4,285.8 461.3,284.2 457.7,285.5 454.8,283.7 451,284.7 448.5,282.7 444.6,283.4 442.5,281.2 438.4,281.6 436.7,279.2 432.7,279.4 431.4,276.9 427.4,276.7 426.6,274.1 422.6,273.6 422.3,270.9 418.4,270.1 418.5,267.5 414.9,266.4 415.5,263.7 412,262.4 413.1,259.8 409.9,258.2 411.5,255.6 408.6,253.8 410.5,251.4 408,249.3 410.4,247.1 408.3,244.9 411,242.8 409.3,240.4 412.4,238.6 411.1,236.1 414.5,234.5 413.7,231.9 417.2,230.5 416.9,227.9 420.7,226.8 420.9,224.1 424.8,223.4 425.4,220.7 429.4,220.3 430.5,217.7 434.6,217.5 436.1,215 440.2,215.2 442.1,212.8 446.1,213.3 448.4,211 452.3,211.8 455,209.8 458.7,210.8 461.8,209 465.2,210.4 468.6,208.8 471.7,210.4 475.3,209.1 478.2,210.9 482,209.9 484.5,211.9 488.4,211.2 490.5,213.4 494.6,213 496.3,215.4 500.3,215.2 501.6,217.7 505.6,217.9 506.4,220.5 510.4,221 510.7,223.7 514.6,224.5 514.5,227.1 518.1,228.2 517.5,230.9 521,232.2 519.9,234.8 523.1,236.4 521.5,239 524.4,240.8 522.5,243.2" fill="#3c1a0d"/>
<polygon points="525,243.9 522.6,246.1 524.7,248.3 522,250.4 523.7,252.8 520.6,254.6 521.9,257.1 518.5,258.7 519.3,261.3 515.8,262.7 516.1,265.3 512.3,266.4 512.1,269.1 508.2,269.8 507.6,272.5 503.6,272.9 502.5,275.5 498.4,275.7 496.9,278.2 492.8,278 490.9,280.4 486.9,279.9 484.6,282.2 480.7,281.4 478,283.4 474.3,282.4 471.2,284.2 467.8,282.8 464.4,284.4 461.3,282.8 457.7,284.1 454.8,282.3 451,283.3 448.5,281.3 444.6,282 442.5,279.8 438.4,280.2 436.7,277.8 432.7,278 431.4,275.5 427.4,275.3 426.6,272.7 422.6,272.2 422.3,269.5 418.4,268.7 418.5,266.1 414.9,265 415.5,262.3 412,261 413.1,258.4 409.9,256.8 411.5,254.2 408.6,252.4 410.5,250 408,247.9 410.4,245.7 408.3,243.5 411,241.4 409.3,239 412.4,237.2 411.1,234.7 414.5,233.1 413.7,230.5 417.2,229.1 416.9,226.5 420.7,225.4 420.9,222.7 424.8,222 425.4,219.3 429.4,218.9 430.5,216.3 434.6,216.1 436.1,213.6 440.2,213.8 442.1,211.4 446.1,211.9 448.4,209.6 452.3,210.4 455,208.4 458.7,209.4 461.8,207.6 465.2,209 468.6,207.4 471.7,209 475.3,207.7 478.2,209.5 482,208.5 484.5,210.5 488.4,209.8 490.5,212 494.6,211.6 496.3,214 500.3,213.8 501.6,216.3 505.6,216.5 506.4,219.1 510.4,219.6 510.7,222.3 514.6,223.1 514.5,225.7 518.1,226.8 517.5,229.5 521,230.8 519.9,233.4 523.1,235 521.5,237.6 524.4,239.4 522.5,241.8" fill="url(#lg12)"/>
<polygon points="525,241.5 522.3,243.7 524.7,245.9 521.7,248 523.7,250.4 520.4,252.2 521.9,254.7 518.3,256.3 519.3,258.9 515.5,260.2 516.1,262.9 512.1,263.9 512.1,266.7 508,267.3 507.6,270.1 503.4,270.4 502.5,273.1 498.3,273.1 496.9,275.8 492.7,275.5 490.9,278 486.8,277.4 484.6,279.8 480.6,278.8 478,281 474.3,279.8 471.2,281.8 467.8,280.2 464.4,282 461.3,280.2 457.7,281.7 454.9,279.7 451,280.9 448.6,278.7 444.6,279.6 442.6,277.2 438.4,277.8 436.9,275.3 432.7,275.6 431.6,272.9 427.4,272.9 426.8,270.1 422.6,269.8 422.5,267 418.4,266.3 418.8,263.6 414.9,262.6 415.7,259.8 412,258.6 413.4,255.9 409.9,254.4 411.7,251.8 408.6,250 410.8,247.6 408,245.5 410.7,243.3 408.3,241.1 411.3,239 409.3,236.6 412.6,234.8 411.1,232.3 414.7,230.7 413.7,228.1 417.5,226.8 416.9,224.1 420.9,223.1 420.9,220.3 425,219.7 425.4,216.9 429.6,216.6 430.5,213.9 434.7,213.9 436.1,211.2 440.3,211.5 442.1,209 446.2,209.6 448.4,207.2 452.4,208.2 455,206 458.7,207.2 461.8,205.2 465.2,206.8 468.6,205 471.7,206.8 475.3,205.3 478.1,207.3 482,206.1 484.4,208.3 488.4,207.4 490.4,209.8 494.6,209.2 496.1,211.7 500.3,211.4 501.4,214.1 505.6,214.1 506.2,216.9 510.4,217.2 510.5,220 514.6,220.7 514.2,223.4 518.1,224.4 517.3,227.2 521,228.4 519.6,231.1 523.1,232.6 521.3,235.2 524.4,237 522.2,239.4" fill="url(#rg13)"/>
<path d="M521.6,248.5 L520.5,251.8 L519,255.1 L517,258.2 L514.6,261.3 L511.7,264.2 L508.5,266.9 L505,269.4 L501.1,271.7 L496.9,273.7 L492.5,275.5 L487.8,277.1 L483,278.3 L478,279.3 L472.9,279.9 L467.8,280.2 L462.6,280.3 L457.5,280 L452.5,279.4 L447.6,278.5 L442.8,277.3 L438.3,275.8 L434,274 L429.9,272 L426.2,269.8 L422.8,267.3 L419.8,264.6 L417.2,261.7 L415,258.7 L413.2,255.6 L411.9,252.3" fill="none" stroke="#f4c3a5" stroke-width="1.6" stroke-opacity="0.75" stroke-linecap="round"/>
<path d="M413,234 L414.5,231.1 L416.4,228.2 L418.7,225.5 L421.3,222.8 L424.1,220.4 L427.3,218 L430.8,215.9 L434.5,214 L438.5,212.2 L442.6,210.7 L446.9,209.4 L451.4,208.4 L455.9,207.6 L460.5,207 L465.2,206.8 L469.9,206.7 L474.5,206.9 L479.1,207.4 L483.6,208.2 L488,209.1 L492.3,210.4 L496.3,211.8 L500.2,213.5 L503.8,215.4 L507.1,217.5 L510.2,219.7 L513,222.2 L515.4,224.7 L517.5,227.5 L519.2,230.3" fill="none" stroke="#5a2c18" stroke-width="1.4" stroke-opacity="0.45" stroke-linecap="round"/>
<ellipse cx="466.5" cy="243.5" rx="52.6" ry="34.6" transform="rotate(-2 466.5 243.5)" fill="none" stroke="#9c6a50" stroke-width="5.9" stroke-opacity="0.28" stroke-dasharray="1.6 1.9"/>
<path d="M611,303.6 L625,468.7 L625.5,474.8 L627.3,480.7 L630.2,486.4 L634.3,491.9 L639.4,497 L645.5,501.6 L652.5,505.7 L660.3,509.2 L668.7,512 L677.6,514.1 L686.8,515.4 L696.2,516 L705.6,515.8 L714.9,514.8 L723.8,513 L732.3,510.5 L740.2,507.3 L747.3,503.4 L753.6,499 L758.9,494.1 L763.2,488.8 L766.3,483.1 L768.3,477.2 L769,471.3 L767,306.4 L766.2,313.1 L764.1,319.8 L760.7,326.2 L756.1,332.2 L750.3,337.7 L743.5,342.7 L735.8,347.1 L727.2,350.7 L718,353.6 L708.3,355.6 L698.3,356.7 L688.1,357 L677.9,356.4 L667.9,354.9 L658.3,352.5 L649.2,349.3 L640.8,345.4 L633.2,340.8 L626.6,335.6 L621,329.8 L616.6,323.6 L613.4,317.1 L611.6,310.4Z" fill="url(#lg14)"/>
<ellipse cx="689" cy="306" rx="78" ry="52" transform="rotate(1 689 306)" fill="#18b03c"/>
<ellipse cx="689" cy="305" rx="77.5" ry="51.2" transform="rotate(1 689 305)" fill="#0e9a2e"/>
<ellipse cx="688" cy="305" rx="59.5" ry="38" transform="rotate(1 688 305)" fill="#0a6a1e"/>
<ellipse cx="688" cy="303.5" rx="56" ry="34.5" transform="rotate(1 688 303.5)" fill="none" stroke="#d79a78" stroke-width="1.2" stroke-opacity="0.8"/>
<path d="M634,234.5 L632,300 L632.4,303.7 L633.8,307.3 L636.2,310.8 L639.4,314.1 L643.5,317.3 L648.4,320.1 L653.9,322.6 L660.1,324.7 L666.7,326.5 L673.8,327.8 L681.1,328.6 L688.5,329 L696,328.9 L703.3,328.3 L710.4,327.2 L717.1,325.7 L723.3,323.8 L729,321.5 L733.9,318.8 L738.1,315.9 L741.5,312.6 L743.9,309.2 L745.4,305.6 L746,302 L752,236.5 L751.4,241.7 L749.8,246.7 L747.2,251.6 L743.7,256.1 L739.4,260.4 L734.2,264.2 L728.4,267.5 L721.9,270.2 L714.9,272.4 L707.6,273.9 L700,274.8 L692.3,275 L684.6,274.5 L677.1,273.4 L669.8,271.6 L662.9,269.2 L656.5,266.2 L650.8,262.7 L645.8,258.7 L641.6,254.4 L638.2,249.7 L635.8,244.7 L634.4,239.6Z" fill="url(#lg15)"/>
<path d="M634,234.5 L632,300 L632.4,303.7 L633.8,307.3 L636.2,310.8 L639.4,314.1 L643.5,317.3 L648.4,320.1 L653.9,322.6 L660.1,324.7 L666.7,326.5 L673.8,327.8 L681.1,328.6 L688.5,329 L696,328.9 L703.3,328.3 L710.4,327.2 L717.1,325.7 L723.3,323.8 L729,321.5 L733.9,318.8 L738.1,315.9 L741.5,312.6 L743.9,309.2 L745.4,305.6 L746,302 L752,236.5 L751.4,241.7 L749.8,246.7 L747.2,251.6 L743.7,256.1 L739.4,260.4 L734.2,264.2 L728.4,267.5 L721.9,270.2 L714.9,272.4 L707.6,273.9 L700,274.8 L692.3,275 L684.6,274.5 L677.1,273.4 L669.8,271.6 L662.9,269.2 L656.5,266.2 L650.8,262.7 L645.8,258.7 L641.6,254.4 L638.2,249.7 L635.8,244.7 L634.4,239.6Z" fill="url(#lg16)"/>
<polygon points="752,240.3 749.5,242.5 751.5,244.9 748.7,246.9 750.2,249.4 747.1,251.1 748.2,253.8 744.7,255.2 745.4,257.9 741.7,259.1 741.9,261.9 738,262.7 737.7,265.5 733.7,266 733,268.7 728.9,269 727.7,271.6 723.6,271.5 721.9,274 717.8,273.6 715.7,276 711.7,275.3 709.3,277.4 705.4,276.4 702.6,278.4 698.9,277.1 695.7,278.8 692.3,277.2 688.9,278.7 685.8,276.8 682.1,278 679.3,276 675.4,276.8 673,274.6 669,275.2 667,272.7 662.9,273 661.3,270.4 657.2,270.4 656.1,267.7 652,267.3 651.4,264.6 647.4,263.9 647.2,261.1 643.3,260.1 643.6,257.4 640,256.1 640.7,253.4 637.3,251.8 638.6,249.2 635.4,247.4 637.1,244.9 634.3,242.9 636.4,240.5 634,238.3 636.5,236.1 634.5,233.7 637.3,231.7 635.8,229.2 638.9,227.5 637.8,224.8 641.3,223.4 640.6,220.7 644.3,219.5 644.1,216.7 648,215.9 648.3,213.1 652.3,212.6 653,209.9 657.1,209.6 658.3,207 662.4,207.1 664.1,204.6 668.2,205 670.3,202.6 674.3,203.3 676.7,201.2 680.6,202.2 683.4,200.2 687.1,201.5 690.3,199.8 693.7,201.4 697.1,199.9 700.2,201.8 703.9,200.6 706.7,202.6 710.6,201.8 713,204 717,203.4 719,205.9 723.1,205.6 724.7,208.2 728.8,208.2 729.9,210.9 734,211.3 734.6,214 738.6,214.7 738.8,217.5 742.7,218.5 742.4,221.2 746,222.5 745.3,225.2 748.7,226.8 747.4,229.4 750.6,231.2 748.9,233.7 751.7,235.7 749.6,238.1" fill="#3c1a0d"/>
<polygon points="752,238.9 749.5,241.1 751.5,243.5 748.7,245.5 750.2,248 747.1,249.7 748.2,252.4 744.7,253.8 745.4,256.5 741.7,257.7 741.9,260.5 738,261.3 737.7,264.1 733.7,264.6 733,267.3 728.9,267.6 727.7,270.2 723.6,270.1 721.9,272.6 717.8,272.2 715.7,274.6 711.7,273.9 709.3,276 705.4,275 702.6,277 698.9,275.7 695.7,277.4 692.3,275.8 688.9,277.3 685.8,275.4 682.1,276.6 679.3,274.6 675.4,275.4 673,273.2 669,273.8 667,271.3 662.9,271.6 661.3,269 657.2,269 656.1,266.3 652,265.9 651.4,263.2 647.4,262.5 647.2,259.7 643.3,258.7 643.6,256 640,254.7 640.7,252 637.3,250.4 638.6,247.8 635.4,246 637.1,243.5 634.3,241.5 636.4,239.1 634,236.9 636.5,234.7 634.5,232.3 637.3,230.3 635.8,227.8 638.9,226.1 637.8,223.4 641.3,222 640.6,219.3 644.3,218.1 644.1,215.3 648,214.5 648.3,211.7 652.3,211.2 653,208.5 657.1,208.2 658.3,205.6 662.4,205.7 664.1,203.2 668.2,203.6 670.3,201.2 674.3,201.9 676.7,199.8 680.6,200.8 683.4,198.8 687.1,200.1 690.3,198.4 693.7,200 697.1,198.5 700.2,200.4 703.9,199.2 706.7,201.2 710.6,200.4 713,202.6 717,202 719,204.5 723.1,204.2 724.7,206.8 728.8,206.8 729.9,209.5 734,209.9 734.6,212.6 738.6,213.3 738.8,216.1 742.7,217.1 742.4,219.8 746,221.1 745.3,223.8 748.7,225.4 747.4,228 750.6,229.8 748.9,232.3 751.7,234.3 749.6,236.7" fill="url(#lg17)"/>
<polygon points="752,236.5 749.2,238.7 751.5,241.1 748.4,243 750.2,245.6 746.8,247.3 748.2,250 744.5,251.3 745.4,254.1 741.5,255.2 741.9,258.1 737.8,258.8 737.7,261.7 733.5,262.1 733,264.9 728.7,265 727.7,267.8 723.4,267.6 721.9,270.2 717.7,269.6 715.7,272.2 711.6,271.3 709.3,273.6 705.4,272.4 702.6,274.6 698.9,273.1 695.7,275 692.3,273.2 688.9,274.9 685.8,272.8 682.1,274.2 679.4,272 675.4,273 673.1,270.6 669,271.4 667.1,268.8 662.9,269.2 661.5,266.5 657.2,266.6 656.3,263.8 652,263.5 651.6,260.7 647.4,260.1 647.4,257.2 643.3,256.3 643.9,253.5 640,252.3 641,249.5 637.3,248 638.8,245.4 635.4,243.6 637.4,241.1 634.3,239.1 636.7,236.7 634,234.5 636.8,232.3 634.5,229.9 637.6,228 635.8,225.4 639.2,223.7 637.8,221 641.5,219.7 640.6,216.9 644.5,215.8 644.1,212.9 648.2,212.2 648.3,209.3 652.5,208.9 653,206.1 657.3,206 658.3,203.2 662.6,203.4 664.1,200.8 668.3,201.4 670.3,198.8 674.4,199.7 676.7,197.4 680.6,198.6 683.4,196.4 687.1,197.9 690.3,196 693.7,197.8 697.1,196.1 700.2,198.2 703.9,196.8 706.6,199 710.6,198 712.9,200.4 717,199.6 718.9,202.2 723.1,201.8 724.5,204.5 728.8,204.4 729.7,207.2 734,207.5 734.4,210.3 738.6,210.9 738.6,213.8 742.7,214.7 742.1,217.5 746,218.7 745,221.5 748.7,223 747.2,225.6 750.6,227.4 748.6,229.9 751.7,231.9 749.3,234.3" fill="url(#rg18)"/>
<path d="M748.2,243.5 L746.9,246.9 L745.2,250.2 L743.1,253.3 L740.5,256.3 L737.5,259.1 L734.1,261.7 L730.4,264.1 L726.3,266.2 L722,268.1 L717.5,269.7 L712.7,271 L707.7,272.1 L702.7,272.8 L697.5,273.1 L692.3,273.2 L687.2,273 L682,272.4 L677,271.5 L672.1,270.3 L667.4,268.8 L662.9,267.1 L658.6,265 L654.6,262.8 L651,260.2 L647.7,257.5 L644.8,254.6 L642.3,251.5 L640.3,248.3 L638.7,245 L637.5,241.6" fill="none" stroke="#f4c3a5" stroke-width="1.6" stroke-opacity="0.75" stroke-linecap="round"/>
<path d="M639.6,222.9 L641.3,220 L643.4,217.2 L645.8,214.5 L648.5,211.9 L651.6,209.5 L654.9,207.3 L658.5,205.3 L662.4,203.5 L666.4,202 L670.7,200.6 L675.1,199.6 L679.6,198.7 L684.3,198.1 L688.9,197.8 L693.7,197.8 L698.4,198 L703,198.5 L707.6,199.2 L712.1,200.2 L716.5,201.4 L720.7,202.9 L724.7,204.6 L728.5,206.6 L732,208.7 L735.3,211 L738.3,213.5 L740.9,216.1 L743.2,218.9 L745.2,221.8 L746.8,224.8" fill="none" stroke="#5a2c18" stroke-width="1.4" stroke-opacity="0.45" stroke-linecap="round"/>
<ellipse cx="693" cy="235.5" rx="53.1" ry="35.6" transform="rotate(1 693 235.5)" fill="none" stroke="#9c6a50" stroke-width="5.9" stroke-opacity="0.28" stroke-dasharray="1.6 1.9"/>
<path d="M276.3,419.1 L303.3,526.7 L304.4,532.4 L306.9,537.8 L310.6,543 L315.5,547.7 L321.5,552 L328.5,555.7 L336.3,558.9 L345,561.3 L354.2,563.1 L363.9,564.1 L373.8,564.3 L383.8,563.8 L393.8,562.6 L403.6,560.6 L412.9,557.9 L421.7,554.6 L429.7,550.7 L437,546.2 L443.2,541.4 L448.3,536.1 L452.3,530.6 L455.1,524.9 L456.6,519.1 L456.7,513.3 L439.7,404.9 L439.6,411.4 L438,418 L435.1,424.5 L430.9,430.7 L425.5,436.7 L418.8,442.2 L411.2,447.2 L402.6,451.6 L393.3,455.3 L383.4,458.3 L373,460.5 L362.4,461.8 L351.7,462.3 L341.1,462 L330.8,460.8 L320.9,458.7 L311.7,455.9 L303.3,452.3 L295.8,448 L289.4,443.1 L284.2,437.7 L280.2,431.8 L277.6,425.6Z" fill="url(#lg1)"/>
<polygon clip-path="url(#cp2)" points="386,410 396,406 410,422 426.3,430 436,485 441,515 427,518 424,496 416,441 402,429" fill="#a9674f"/>
<ellipse cx="358" cy="413" rx="82" ry="50" transform="rotate(-5 358 413)" fill="#f7f7f7"/>
<ellipse cx="358" cy="412" rx="81.5" ry="49.2" transform="rotate(-5 358 412)" fill="#dedede"/>
<polygon clip-path="url(#cp3)" points="386,410 396,406 410,422 426.3,430 436,485 441,515 427,518 424,496 416,441 402,429" fill="#a2624b"/>
<ellipse cx="357" cy="407" rx="61" ry="35.5" transform="rotate(-5 357 407)" fill="#a9765e"/>
<polygon clip-path="url(#cp4)" points="386,410 396,406 410,422 426.3,430 436,485 441,515 427,518 424,496 416,441 402,429" fill="#8a4e38"/>
<path d="M276.2,336.3 L298.1,403 L298.9,406.8 L300.6,410.4 L303.3,413.8 L306.9,417 L311.3,419.8 L316.5,422.3 L322.4,424.4 L328.8,426.1 L335.7,427.3 L343,428 L350.5,428.2 L358,427.9 L365.6,427.2 L372.9,425.9 L380,424.2 L386.7,422 L392.8,419.5 L398.3,416.6 L403.1,413.4 L407.1,410 L410.2,406.3 L412.4,402.6 L413.6,398.8 L413.9,395 L399.8,327.7 L399.7,332.7 L398.4,337.6 L396.2,342.5 L392.9,347.2 L388.7,351.6 L383.6,355.7 L377.8,359.4 L371.2,362.7 L364.1,365.4 L356.6,367.5 L348.7,369 L340.7,369.9 L332.6,370.1 L324.6,369.7 L316.8,368.7 L309.4,367 L302.5,364.7 L296.1,361.9 L290.5,358.5 L285.8,354.7 L281.9,350.5 L278.9,346 L277,341.2Z" fill="url(#lg5)"/>
<path d="M276.2,336.3 L298.1,403 L298.9,406.8 L300.6,410.4 L303.3,413.8 L306.9,417 L311.3,419.8 L316.5,422.3 L322.4,424.4 L328.8,426.1 L335.7,427.3 L343,428 L350.5,428.2 L358,427.9 L365.6,427.2 L372.9,425.9 L380,424.2 L386.7,422 L392.8,419.5 L398.3,416.6 L403.1,413.4 L407.1,410 L410.2,406.3 L412.4,402.6 L413.6,398.8 L413.9,395 L399.8,327.7 L399.7,332.7 L398.4,337.6 L396.2,342.5 L392.9,347.2 L388.7,351.6 L383.6,355.7 L377.8,359.4 L371.2,362.7 L364.1,365.4 L356.6,367.5 L348.7,369 L340.7,369.9 L332.6,370.1 L324.6,369.7 L316.8,368.7 L309.4,367 L302.5,364.7 L296.1,361.9 L290.5,358.5 L285.8,354.7 L281.9,350.5 L278.9,346 L277,341.2Z" fill="url(#lg6)"/>
<polygon points="399.8,331.5 397.4,333.7 399.8,335.7 397,337.7 398.9,339.9 395.8,341.7 397.4,344 394,345.6 395.1,348.1 391.4,349.5 392.1,352 388.2,353.1 388.4,355.7 384.4,356.6 384.2,359.1 380.1,359.8 379.4,362.3 375.2,362.7 374,365.2 369.9,365.2 368.3,367.7 364.2,367.5 362.2,369.8 358.2,369.3 355.8,371.5 351.9,370.7 349.1,372.8 345.4,371.7 342.4,373.6 338.9,372.3 335.5,373.9 332.4,372.4 328.7,373.8 325.9,372.1 322.1,373.3 319.6,371.3 315.6,372.3 313.5,370.1 309.4,370.8 307.7,368.5 303.5,368.9 302.2,366.5 298.1,366.6 297.2,364.2 293.1,364 292.7,361.4 288.7,361 288.7,358.4 284.9,357.6 285.4,355.1 281.7,354.1 282.7,351.5 279.2,350.3 280.6,347.8 277.4,346.3 279.3,343.9 276.4,342.2 278.6,340 276.1,338 278.7,335.9 276.6,333.8 279.5,331.9 277.8,329.6 281,327.9 279.7,325.5 283.2,324 282.3,321.6 286.1,320.3 285.7,317.8 289.6,316.7 289.6,314.2 293.7,313.4 294.2,310.8 298.3,310.3 299.2,307.8 303.4,307.6 304.8,305.1 308.9,305.2 310.7,302.8 314.8,303.2 317,300.9 321,301.5 323.5,299.4 327.3,300.3 330.3,298.4 333.8,299.5 337.1,297.8 340.4,299.2 343.9,297.7 346.9,299.3 350.6,298 353.3,299.8 357.2,298.8 359.5,300.8 363.6,300 365.5,302.2 369.6,301.7 371.1,304 375.3,303.8 376.3,306.2 380.5,306.3 381.1,308.8 385.2,309.1 385.3,311.7 389.3,312.3 389,314.8 392.8,315.7 392.1,318.3 395.6,319.4 394.4,321.9 397.8,323.3 396.1,325.7 399.2,327.3 397.1,329.6" fill="#3c1a0d"/>
<polygon points="399.8,330.1 397.4,332.3 399.8,334.3 397,336.3 398.9,338.5 395.8,340.3 397.4,342.6 394,344.2 395.1,346.7 391.4,348.1 392.1,350.6 388.2,351.7 388.4,354.3 384.4,355.2 384.2,357.7 380.1,358.4 379.4,360.9 375.2,361.3 374,363.8 369.9,363.8 368.3,366.3 364.2,366.1 362.2,368.4 358.2,367.9 355.8,370.1 351.9,369.3 349.1,371.4 345.4,370.3 342.4,372.2 338.9,370.9 335.5,372.5 332.4,371 328.7,372.4 325.9,370.7 322.1,371.9 319.6,369.9 315.6,370.9 313.5,368.7 309.4,369.4 307.7,367.1 303.5,367.5 302.2,365.1 298.1,365.2 297.2,362.8 293.1,362.6 292.7,360 288.7,359.6 288.7,357 284.9,356.2 285.4,353.7 281.7,352.7 282.7,350.1 279.2,348.9 280.6,346.4 277.4,344.9 279.3,342.5 276.4,340.8 278.6,338.6 276.1,336.6 278.7,334.5 276.6,332.4 279.5,330.5 277.8,328.2 281,326.5 279.7,324.1 283.2,322.6 282.3,320.2 286.1,318.9 285.7,316.4 289.6,315.3 289.6,312.8 293.7,312 294.2,309.4 298.3,308.9 299.2,306.4 303.4,306.2 304.8,303.7 308.9,303.8 310.7,301.4 314.8,301.8 317,299.5 321,300.1 323.5,298 327.3,298.9 330.3,297 333.8,298.1 337.1,296.4 340.4,297.8 343.9,296.3 346.9,297.9 350.6,296.6 353.3,298.4 357.2,297.4 359.5,299.4 363.6,298.6 365.5,300.8 369.6,300.3 371.1,302.6 375.3,302.4 376.3,304.8 380.5,304.9 381.1,307.4 385.2,307.7 385.3,310.3 389.3,310.9 389,313.4 392.8,314.3 392.1,316.9 395.6,318 394.4,320.5 397.8,321.9 396.1,324.3 399.2,325.9 397.1,328.2" fill="url(#lg7)"/>
<polygon points="399.8,327.7 397.1,329.9 399.8,331.9 396.7,333.9 398.9,336.1 395.5,337.9 397.4,340.2 393.7,341.8 395.1,344.3 391.2,345.6 392.1,348.2 388,349.2 388.4,351.9 384.2,352.7 384.2,355.3 379.9,355.8 379.4,358.5 375,358.7 374,361.4 369.7,361.3 368.3,363.9 364,363.5 362.2,366 358,365.3 355.8,367.7 351.8,366.7 349.1,369 345.4,367.7 342.4,369.8 338.9,368.3 335.5,370.1 332.4,368.4 328.7,370 326,368.1 322.1,369.5 319.7,367.4 315.6,368.5 313.6,366.2 309.4,367 307.8,364.6 303.5,365.1 302.4,362.6 298.1,362.8 297.4,360.2 293.1,360.2 292.9,357.5 288.7,357.2 289,354.5 284.9,353.8 285.7,351.2 281.7,350.3 283,347.7 279.2,346.5 280.9,343.9 277.4,342.5 279.6,340.1 276.4,338.4 278.9,336.1 276.1,334.2 279,332.1 276.6,330 279.8,328.1 277.8,325.8 281.3,324.2 279.7,321.7 283.5,320.3 282.3,317.8 286.4,316.6 285.7,314 289.8,313 289.6,310.4 293.9,309.7 294.2,307 298.5,306.7 299.2,304 303.6,304 304.8,301.3 309.1,301.6 310.7,299 314.9,299.5 317,297.1 321,297.9 323.5,295.6 327.4,296.7 330.3,294.6 333.8,295.9 337.1,294 340.4,295.6 343.9,293.9 346.8,295.7 350.6,294.2 353.2,296.2 357.2,295 359.4,297.2 363.6,296.2 365.3,298.6 369.6,297.9 370.9,300.4 375.3,300 376.1,302.6 380.5,302.5 380.9,305.1 385.2,305.3 385.1,308 389.3,308.5 388.7,311.1 392.8,311.9 391.8,314.6 395.6,315.6 394.1,318.2 397.8,319.5 395.8,322 399.2,323.5 396.8,325.9" fill="url(#rg8)"/>
<path d="M396.5,334.7 L395.5,338.1 L393.9,341.3 L391.9,344.5 L389.5,347.6 L386.6,350.6 L383.3,353.4 L379.6,356 L375.5,358.4 L371.2,360.6 L366.5,362.6 L361.6,364.3 L356.6,365.7 L351.3,366.8 L346,367.7 L340.5,368.2 L335.1,368.4 L329.7,368.3 L324.3,368 L319.1,367.3 L314,366.3 L309.1,365 L304.5,363.4 L300.2,361.6 L296.1,359.5 L292.5,357.2 L289.2,354.6 L286.3,351.9 L283.9,349 L281.9,346 L280.5,342.8" fill="none" stroke="#f4c3a5" stroke-width="1.6" stroke-opacity="0.75" stroke-linecap="round"/>
<path d="M281,324.7 L282.6,321.8 L284.5,318.9 L286.8,316.1 L289.4,313.4 L292.4,310.8 L295.7,308.4 L299.3,306.2 L303.2,304.1 L307.3,302.3 L311.7,300.6 L316.2,299.2 L320.9,298 L325.7,297 L330.5,296.3 L335.5,295.8 L340.4,295.6 L345.4,295.6 L350.2,295.9 L355,296.5 L359.7,297.2 L364.2,298.3 L368.6,299.6 L372.7,301.1 L376.6,302.8 L380.2,304.7 L383.5,306.8 L386.5,309.1 L389.2,311.6 L391.5,314.2 L393.4,316.9" fill="none" stroke="#5a2c18" stroke-width="1.4" stroke-opacity="0.45" stroke-linecap="round"/>
<ellipse cx="338" cy="332" rx="55.8" ry="34.2" transform="rotate(-4 338 332)" fill="none" stroke="#9c6a50" stroke-width="6.2" stroke-opacity="0.28" stroke-dasharray="1.6 1.9"/>
<path d="M741.5,368.2 L721.4,491.7 L721.4,498.3 L722.8,504.9 L725.4,511.4 L729.3,517.7 L734.5,523.7 L740.7,529.3 L748,534.4 L756.2,538.9 L765.1,542.8 L774.6,545.9 L784.6,548.2 L794.8,549.7 L805.1,550.4 L815.3,550.2 L825.2,549.1 L834.8,547.2 L843.7,544.5 L851.9,541 L859.1,536.8 L865.4,532 L870.6,526.7 L874.5,520.8 L877.2,514.7 L878.6,508.3 L908.5,385.8 L907.1,392.8 L904.2,399.6 L900,406 L894.5,412 L887.8,417.3 L880,421.9 L871.3,425.7 L861.8,428.8 L851.7,430.9 L841.1,432.1 L830.2,432.4 L819.3,431.7 L808.4,430.1 L797.8,427.6 L787.7,424.2 L778.3,420 L769.6,415.1 L761.9,409.5 L755.2,403.3 L749.8,396.7 L745.6,389.8 L742.8,382.7 L741.4,375.4Z" fill="url(#lg19)"/>
<polygon clip-path="url(#cp20)" points="788,386 801,389 794.7,406 780,420 766.7,477 762,500 742,495 748.7,470.7 764,411.3 778.7,401" fill="#0c9a2c"/>
<ellipse cx="825" cy="378" rx="84" ry="55" transform="rotate(6 825 378)" fill="#f8f8f8"/>
<ellipse cx="825" cy="377" rx="83.5" ry="54.2" transform="rotate(6 825 377)" fill="#e0e0e0"/>
<polygon clip-path="url(#cp21)" points="788,386 801,389 794.7,406 780,420 766.7,477 762,500 742,495 748.7,470.7 764,411.3 778.7,401" fill="#0b8f28"/>
<ellipse cx="826" cy="374" rx="63.5" ry="39.5" transform="rotate(6 826 374)" fill="#a8745c"/>
<polygon clip-path="url(#cp22)" points="788,386 801,389 794.7,406 780,420 766.7,477 762,500 742,495 748.7,470.7 764,411.3 778.7,401" fill="#0a5c1a"/>
<path d="M776.3,296.4 L766.8,351.6 L766.9,356.3 L767.9,361.1 L770.1,365.8 L773.1,370.3 L777.2,374.7 L782.1,378.8 L787.8,382.5 L794.2,385.8 L801.1,388.6 L808.5,390.9 L816.3,392.7 L824.2,393.8 L832.3,394.3 L840.2,394.2 L847.9,393.5 L855.3,392.2 L862.2,390.3 L868.6,387.9 L874.2,384.9 L879.1,381.5 L883.1,377.6 L886.1,373.5 L888.1,369 L889.2,364.4 L902.7,309.6 L901.5,315.2 L899.3,320.5 L896.1,325.5 L891.9,330.1 L886.9,334.3 L881,337.9 L874.4,341 L867.2,343.4 L859.5,345 L851.5,346 L843.3,346.3 L835,345.8 L826.8,344.5 L818.8,342.6 L811.2,340 L804,336.7 L797.5,332.9 L791.7,328.5 L786.7,323.8 L782.6,318.6 L779.4,313.2 L777.3,307.7 L776.3,302Z" fill="url(#lg23)"/>
<path d="M776.3,296.4 L766.8,351.6 L766.9,356.3 L767.9,361.1 L770.1,365.8 L773.1,370.3 L777.2,374.7 L782.1,378.8 L787.8,382.5 L794.2,385.8 L801.1,388.6 L808.5,390.9 L816.3,392.7 L824.2,393.8 L832.3,394.3 L840.2,394.2 L847.9,393.5 L855.3,392.2 L862.2,390.3 L868.6,387.9 L874.2,384.9 L879.1,381.5 L883.1,377.6 L886.1,373.5 L888.1,369 L889.2,364.4 L902.7,309.6 L901.5,315.2 L899.3,320.5 L896.1,325.5 L891.9,330.1 L886.9,334.3 L881,337.9 L874.4,341 L867.2,343.4 L859.5,345 L851.5,346 L843.3,346.3 L835,345.8 L826.8,344.5 L818.8,342.6 L811.2,340 L804,336.7 L797.5,332.9 L791.7,328.5 L786.7,323.8 L782.6,318.6 L779.4,313.2 L777.3,307.7 L776.3,302Z" fill="url(#lg24)"/>
<polygon points="902.7,313.4 899.8,315.4 901.8,318 898.6,319.7 900.2,322.5 896.8,323.9 897.9,326.7 894.2,327.9 894.9,330.8 891,331.7 891.3,334.5 887.3,335.1 887.1,338 882.9,338.2 882.3,341 878.1,341 877,343.7 872.8,343.3 871.2,345.9 867.1,345.3 865.1,347.7 861,346.7 858.7,349 854.8,347.7 852.1,349.8 848.3,348.3 845.3,350.1 841.8,348.3 838.4,349.9 835.2,347.9 831.6,349.1 828.7,346.9 824.8,347.9 822.3,345.5 818.3,346.2 816.1,343.7 811.9,344.1 810.1,341.4 805.9,341.5 804.5,338.7 800.3,338.5 799.4,335.6 795.2,335.1 794.7,332.2 790.6,331.4 790.5,328.5 786.5,327.4 786.9,324.6 783.1,323.2 783.9,320.4 780.3,318.7 781.6,316.1 778.2,314.2 779.9,311.6 776.9,309.5 779,307.2 776.2,304.8 778.7,302.7 776.3,300.2 779.2,298.2 777.2,295.6 780.4,293.9 778.8,291.1 782.2,289.7 781.1,286.9 784.8,285.7 784.1,282.8 788,281.9 787.7,279.1 791.7,278.5 791.9,275.6 796.1,275.4 796.7,272.6 800.9,272.6 802,269.9 806.2,270.3 807.8,267.7 811.9,268.3 813.9,265.9 818,266.9 820.3,264.6 824.2,265.9 826.9,263.8 830.7,265.3 833.7,263.5 837.2,265.3 840.6,263.7 843.8,265.7 847.4,264.5 850.3,266.7 854.2,265.7 856.7,268.1 860.7,267.4 862.9,269.9 867.1,269.5 868.9,272.2 873.1,272.1 874.5,274.9 878.7,275.1 879.6,278 883.8,278.5 884.3,281.4 888.4,282.2 888.5,285.1 892.5,286.2 892.1,289 895.9,290.4 895.1,293.2 898.7,294.9 897.4,297.5 900.8,299.4 899.1,302 902.1,304.1 900,306.4 902.8,308.8 900.3,310.9" fill="#3c1a0d"/>
<polygon points="902.7,312 899.8,314 901.8,316.6 898.6,318.3 900.2,321.1 896.8,322.5 897.9,325.3 894.2,326.5 894.9,329.4 891,330.3 891.3,333.1 887.3,333.7 887.1,336.6 882.9,336.8 882.3,339.6 878.1,339.6 877,342.3 872.8,341.9 871.2,344.5 867.1,343.9 865.1,346.3 861,345.3 858.7,347.6 854.8,346.3 852.1,348.4 848.3,346.9 845.3,348.7 841.8,346.9 838.4,348.5 835.2,346.5 831.6,347.7 828.7,345.5 824.8,346.5 822.3,344.1 818.3,344.8 816.1,342.3 811.9,342.7 810.1,340 805.9,340.1 804.5,337.3 800.3,337.1 799.4,334.2 795.2,333.7 794.7,330.8 790.6,330 790.5,327.1 786.5,326 786.9,323.2 783.1,321.8 783.9,319 780.3,317.3 781.6,314.7 778.2,312.8 779.9,310.2 776.9,308.1 779,305.8 776.2,303.4 778.7,301.3 776.3,298.8 779.2,296.8 777.2,294.2 780.4,292.5 778.8,289.7 782.2,288.3 781.1,285.5 784.8,284.3 784.1,281.4 788,280.5 787.7,277.7 791.7,277.1 791.9,274.2 796.1,274 796.7,271.2 800.9,271.2 802,268.5 806.2,268.9 807.8,266.3 811.9,266.9 813.9,264.5 818,265.5 820.3,263.2 824.2,264.5 826.9,262.4 830.7,263.9 833.7,262.1 837.2,263.9 840.6,262.3 843.8,264.3 847.4,263.1 850.3,265.3 854.2,264.3 856.7,266.7 860.7,266 862.9,268.5 867.1,268.1 868.9,270.8 873.1,270.7 874.5,273.5 878.7,273.7 879.6,276.6 883.8,277.1 884.3,280 888.4,280.8 888.5,283.7 892.5,284.8 892.1,287.6 895.9,289 895.1,291.8 898.7,293.5 897.4,296.1 900.8,298 899.1,300.6 902.1,302.7 900,305 902.8,307.4 900.3,309.5" fill="url(#lg25)"/>
<polygon points="902.7,309.6 899.5,311.5 901.8,314.2 898.3,315.9 900.2,318.7 896.5,320 897.9,322.9 893.9,324 894.9,327 890.8,327.7 891.3,330.7 887,331.2 887.1,334.2 882.7,334.3 882.3,337.2 877.9,337 877,339.9 872.6,339.3 871.2,342.1 866.9,341.3 865.1,343.9 860.9,342.7 858.7,345.2 854.7,343.7 852.1,346 848.3,344.2 845.3,346.3 841.8,344.3 838.4,346.1 835.2,343.8 831.6,345.3 828.7,342.9 824.8,344.1 822.3,341.5 818.3,342.4 816.2,339.7 811.9,340.3 810.3,337.4 805.9,337.7 804.7,334.7 800.3,334.7 799.6,331.7 795.2,331.3 794.9,328.3 790.6,327.6 790.8,324.6 786.5,323.6 787.2,320.7 783.1,319.4 784.2,316.5 780.3,314.9 781.9,312.2 778.2,310.4 780.2,307.8 776.9,305.7 779.3,303.4 776.2,301 779,298.9 776.3,296.4 779.5,294.5 777.2,291.8 780.7,290.1 778.8,287.3 782.5,286 781.1,283.1 785.1,282 784.1,279 788.2,278.3 787.7,275.3 792,274.8 791.9,271.8 796.3,271.7 796.7,268.8 801.1,269 802,266.1 806.4,266.7 807.8,263.9 812.1,264.7 813.9,262.1 818.1,263.3 820.3,260.8 824.3,262.3 826.9,260 830.7,261.8 833.7,259.7 837.2,261.7 840.6,259.9 843.8,262.2 847.4,260.7 850.3,263.1 854.2,261.9 856.7,264.5 860.7,263.6 862.8,266.3 867.1,265.7 868.7,268.6 873.1,268.3 874.3,271.3 878.7,271.3 879.4,274.3 883.8,274.7 884.1,277.7 888.4,278.4 888.2,281.4 892.5,282.4 891.8,285.3 895.9,286.6 894.8,289.5 898.7,291.1 897.1,293.8 900.8,295.6 898.8,298.2 902.1,300.3 899.7,302.6 902.8,305 900,307.1" fill="url(#rg26)"/>
<path d="M897.9,316.9 L896.3,320.4 L894.1,323.8 L891.5,327 L888.4,330 L884.9,332.7 L881.1,335.3 L876.9,337.5 L872.3,339.4 L867.5,341.1 L862.5,342.4 L857.2,343.4 L851.8,344 L846.3,344.3 L840.8,344.3 L835.2,343.8 L829.7,343.1 L824.2,342 L818.9,340.6 L813.8,338.8 L808.8,336.8 L804.2,334.4 L799.8,331.8 L795.8,329 L792.1,325.9 L788.9,322.6 L786,319.2 L783.7,315.6 L781.8,312 L780.4,308.2 L779.5,304.4" fill="none" stroke="#f4c3a5" stroke-width="1.6" stroke-opacity="0.75" stroke-linecap="round"/>
<path d="M783.5,284.4 L785.6,281.3 L788,278.5 L790.9,275.8 L794.1,273.3 L797.6,271 L801.3,268.9 L805.4,267.1 L809.7,265.5 L814.2,264.2 L818.9,263.1 L823.7,262.3 L828.7,261.9 L833.7,261.7 L838.7,261.8 L843.8,262.2 L848.8,262.8 L853.8,263.8 L858.7,265 L863.4,266.5 L868,268.3 L872.3,270.3 L876.5,272.5 L880.3,274.9 L883.9,277.6 L887.2,280.4 L890.1,283.4 L892.7,286.5 L894.9,289.7 L896.8,293 L898.2,296.4" fill="none" stroke="#5a2c18" stroke-width="1.4" stroke-opacity="0.45" stroke-linecap="round"/>
<ellipse cx="839.5" cy="303" rx="57.1" ry="38.7" transform="rotate(6 839.5 303)" fill="none" stroke="#9c6a50" stroke-width="6.4" stroke-opacity="0.28" stroke-dasharray="1.6 1.9"/>
<path d="M404,516 L440,487 L500,440 L547,410 L560,381 L557,347 L563,345 L569,353 L575,400 L585,480 L592,520 L606,560 L640,760 L300,760 L300,600 Z" fill="url(#lg58)"/>
<path d="M609,345 L613,376 L633,407 L683,440 L733,470 L768,488 L775,540 L900,560 L900,760 L640,760 L612,560 L630,520 L623,480 L603,353 Z" fill="url(#lg59)"/>
<rect x="300" y="340" width="600" height="420" filter="url(#nzf)" clip-path="url(#cpFoilU)" opacity="0.13"/>
<rect x="480" y="500" width="260" height="300" fill="url(#rg60)"/>
<path d="M592,520 L628,520 L660,760 L575,760 Z" fill="#020202"/>
<line x1="596" y1="544" x2="642" y2="546" stroke="#8a8a8a" stroke-width="1.2" stroke-dasharray="1.2 2.6" stroke-opacity="0.7"/>
<path d="M244.4,580 L329.3,776.6 L330.5,782.8 L333,788.8 L336.7,794.4 L341.5,799.6 L347.5,804.4 L354.4,808.5 L362.2,812 L370.8,814.7 L379.9,816.7 L389.4,817.9 L399.3,818.3 L409.2,817.8 L419,816.5 L428.6,814.5 L437.8,811.6 L446.5,808.1 L454.4,803.9 L461.5,799.1 L467.6,793.9 L472.7,788.2 L476.5,782.2 L479.2,776 L480.6,769.7 L480.7,763.4 L427.6,564 L427.6,572 L425.9,580 L422.7,587.8 L418,595.4 L411.9,602.6 L404.6,609.3 L396,615.3 L386.4,620.6 L376,625.1 L364.9,628.6 L353.2,631.2 L341.3,632.8 L329.3,633.3 L317.4,632.8 L305.8,631.2 L294.8,628.6 L284.4,625.1 L275,620.6 L266.5,615.4 L259.3,609.3 L253.4,602.7 L248.8,595.5 L245.8,587.9Z" fill="url(#lg40)"/>
<polygon clip-path="url(#cp41)" points="327,585 341,583 343,608 347,633 358,685 372,722 412,790 388,795 352,724 336,685 323,634 326,611" fill="#e2622f"/>
<ellipse cx="336" cy="573" rx="92" ry="61" transform="rotate(-5 336 573)" fill="#f6f6f6"/>
<ellipse cx="336" cy="572" rx="91.5" ry="60.2" transform="rotate(-5 336 572)" fill="#dcdcdc"/>
<polygon clip-path="url(#cp42)" points="327,585 341,583 343,608 347,633 358,685 372,722 412,790 388,795 352,724 336,685 323,634 326,611" fill="#dd6030"/>
<ellipse cx="333" cy="569" rx="68" ry="43" transform="rotate(-5 333 569)" fill="#a88a78"/>
<polygon clip-path="url(#cp43)" points="327,585 341,583 343,608 347,633 358,685 372,722 412,790 388,795 352,724 336,685 323,634 326,611" fill="#b8532c"/>
<path d="M240.3,503.3 L265.2,561.6 L266.2,566.3 L268.3,570.9 L271.3,575.3 L275.4,579.3 L280.4,582.9 L286.2,586 L292.7,588.6 L299.9,590.7 L307.6,592.2 L315.6,593 L323.9,593.3 L332.2,592.9 L340.5,591.8 L348.6,590.2 L356.4,587.9 L363.7,585.1 L370.4,581.8 L376.4,578.1 L381.5,574 L385.8,569.6 L389.1,565 L391.4,560.2 L392.6,555.3 L392.8,550.4 L384.7,490.7 L384.7,497.9 L383.5,505.1 L381.1,512.1 L377.4,518.9 L372.7,525.3 L367,531.3 L360.3,536.6 L352.8,541.3 L344.6,545.2 L335.8,548.3 L326.7,550.5 L317.3,551.8 L307.8,552.1 L298.4,551.6 L289.3,550 L280.5,547.6 L272.3,544.3 L264.8,540.2 L258.1,535.4 L252.3,529.9 L247.6,523.8 L244,517.3 L241.5,510.4Z" fill="url(#lg44)"/>
<path d="M240.3,503.3 L265.2,561.6 L266.2,566.3 L268.3,570.9 L271.3,575.3 L275.4,579.3 L280.4,582.9 L286.2,586 L292.7,588.6 L299.9,590.7 L307.6,592.2 L315.6,593 L323.9,593.3 L332.2,592.9 L340.5,591.8 L348.6,590.2 L356.4,587.9 L363.7,585.1 L370.4,581.8 L376.4,578.1 L381.5,574 L385.8,569.6 L389.1,565 L391.4,560.2 L392.6,555.3 L392.8,550.4 L384.7,490.7 L384.7,497.9 L383.5,505.1 L381.1,512.1 L377.4,518.9 L372.7,525.3 L367,531.3 L360.3,536.6 L352.8,541.3 L344.6,545.2 L335.8,548.3 L326.7,550.5 L317.3,551.8 L307.8,552.1 L298.4,551.6 L289.3,550 L280.5,547.6 L272.3,544.3 L264.8,540.2 L258.1,535.4 L252.3,529.9 L247.6,523.8 L244,517.3 L241.5,510.4Z" fill="url(#lg45)"/>
<polygon points="384.7,494.5 382,497.2 384.9,499.6 381.8,502.2 384.4,504.8 381,507.1 383.2,509.9 379.6,512 381.5,515 377.6,516.8 379.1,519.9 375.1,521.5 376.1,524.7 372,525.9 372.6,529.2 368.4,530.2 368.6,533.5 364.2,534.2 364.1,537.5 359.7,537.9 359.1,541.2 354.7,541.3 353.7,544.6 349.3,544.3 347.9,547.5 343.6,546.9 341.9,550.1 337.7,549.2 335.6,552.2 331.5,551 329,553.8 325.2,552.3 322.4,555 318.7,553.2 315.6,555.7 312.2,553.7 308.8,556 305.7,553.7 302.1,555.7 299.3,553.2 295.4,555 292.9,552.3 288.9,553.7 286.8,550.9 282.6,552.1 280.8,549.1 276.5,549.9 275.2,546.8 270.8,547.4 269.9,544.1 265.5,544.4 264.9,541.1 260.5,541.1 260.4,537.7 256,537.3 256.3,534 252,533.3 252.7,530 248.6,529 249.7,525.7 245.7,524.4 247.2,521.2 243.4,519.7 245.2,516.6 241.7,514.7 243.9,511.8 240.6,509.7 243.2,506.9 240.1,504.5 243,501.9 240.3,499.4 243.5,497 241.1,494.2 244.6,492 242.6,489.1 246.3,487.2 244.6,484.1 248.6,482.4 247.3,479.3 251.4,477.9 250.5,474.6 254.8,473.5 254.3,470.2 258.6,469.4 258.6,466 263,465.5 263.4,462.2 267.8,462 268.6,458.6 272.9,458.8 274.1,455.5 278.5,455.9 280.1,452.8 284.3,453.5 286.3,450.4 290.4,451.5 292.7,448.5 296.6,449.9 299.3,447.1 303,448.8 306,446.2 309.5,448.1 312.8,445.7 316,447.9 319.6,445.7 322.5,448.1 326.3,446.2 328.9,448.8 332.9,447.2 335.2,450 339.3,448.6 341.2,451.6 345.5,450.5 347,453.6 351.4,452.9 352.5,456.1 356.9,455.7 357.7,458.9 362.1,458.8 362.4,462.2 366.8,462.4 366.7,465.7 371,466.2 370.5,469.6 374.8,470.4 373.9,473.7 377.9,474.8 376.7,478.1 380.6,479.5 378.9,482.7 382.6,484.4 380.5,487.4 384,489.4 381.5,492.3" fill="#3c1a0d"/>
<polygon points="384.7,493.1 382,495.8 384.9,498.2 381.8,500.8 384.4,503.4 381,505.7 383.2,508.5 379.6,510.6 381.5,513.6 377.6,515.4 379.1,518.5 375.1,520.1 376.1,523.3 372,524.5 372.6,527.8 368.4,528.8 368.6,532.1 364.2,532.8 364.1,536.1 359.7,536.5 359.1,539.8 354.7,539.9 353.7,543.2 349.3,542.9 347.9,546.1 343.6,545.5 341.9,548.7 337.7,547.8 335.6,550.8 331.5,549.6 329,552.4 325.2,550.9 322.4,553.6 318.7,551.8 315.6,554.3 312.2,552.3 308.8,554.6 305.7,552.3 302.1,554.3 299.3,551.8 295.4,553.6 292.9,550.9 288.9,552.3 286.8,549.5 282.6,550.7 280.8,547.7 276.5,548.5 275.2,545.4 270.8,546 269.9,542.7 265.5,543 264.9,539.7 260.5,539.7 260.4,536.3 256,535.9 256.3,532.6 252,531.9 252.7,528.6 248.6,527.6 249.7,524.3 245.7,523 247.2,519.8 243.4,518.3 245.2,515.2 241.7,513.3 243.9,510.4 240.6,508.3 243.2,505.5 240.1,503.1 243,500.5 240.3,498 243.5,495.6 241.1,492.8 244.6,490.6 242.6,487.7 246.3,485.8 244.6,482.7 248.6,481 247.3,477.9 251.4,476.5 250.5,473.2 254.8,472.1 254.3,468.8 258.6,468 258.6,464.6 263,464.1 263.4,460.8 267.8,460.6 268.6,457.2 272.9,457.4 274.1,454.1 278.5,454.5 280.1,451.4 284.3,452.1 286.3,449 290.4,450.1 292.7,447.1 296.6,448.5 299.3,445.7 303,447.4 306,444.8 309.5,446.7 312.8,444.3 316,446.5 319.6,444.3 322.5,446.7 326.3,444.8 328.9,447.4 332.9,445.8 335.2,448.6 339.3,447.2 341.2,450.2 345.5,449.1 347,452.2 351.4,451.5 352.5,454.7 356.9,454.3 357.7,457.5 362.1,457.4 362.4,460.8 366.8,461 366.7,464.3 371,464.8 370.5,468.2 374.8,469 373.9,472.3 377.9,473.4 376.7,476.7 380.6,478.1 378.9,481.3 382.6,483 380.5,486 384,488 381.5,490.9" fill="url(#lg46)"/>
<polygon points="384.7,490.7 381.6,493.4 384.9,495.8 381.4,498.4 384.4,501 380.7,503.3 383.2,506.1 379.3,508.2 381.5,511.2 377.3,512.9 379.1,516.1 374.8,517.6 376.1,520.9 371.7,522 372.6,525.4 368.1,526.2 368.6,529.7 364,530.2 364.1,533.7 359.4,533.9 359.1,537.4 354.5,537.3 353.7,540.8 349.1,540.3 347.9,543.7 343.5,542.9 341.9,546.3 337.6,545.1 335.6,548.4 331.4,546.9 329,550 325.1,548.3 322.4,551.2 318.7,549.2 315.6,551.9 312.2,549.6 308.8,552.2 305.7,549.6 302.1,551.9 299.3,549.1 295.4,551.2 293,548.2 288.9,549.9 286.9,546.8 282.6,548.3 281,545 276.5,546.1 275.4,542.8 270.8,543.6 270.1,540.1 265.5,540.6 265.2,537.1 260.5,537.3 260.7,533.7 256,533.5 256.6,530 252,529.5 253,526 248.6,525.2 250,521.8 245.7,520.6 247.5,517.3 243.4,515.9 245.6,512.7 241.7,510.9 244.3,507.9 240.6,505.9 243.5,503 240.1,500.7 243.4,498.1 240.3,495.6 243.9,493.2 241.1,490.4 245,488.3 242.6,485.3 246.6,483.4 244.6,480.3 248.9,478.7 247.3,475.5 251.7,474.2 250.5,470.8 255.1,469.8 254.3,466.4 258.9,465.7 258.6,462.2 263.2,461.9 263.4,458.4 268,458.4 268.6,454.8 273.2,455.2 274.1,451.7 278.7,452.4 280.1,449 284.4,450 286.3,446.6 290.5,447.9 292.7,444.7 296.7,446.4 299.3,443.3 303.1,445.2 306,442.4 309.5,444.5 312.8,441.9 316,444.3 319.6,441.9 322.5,444.6 326.3,442.4 328.8,445.3 332.9,443.4 335,446.4 339.3,444.8 341.1,448 345.5,446.7 346.8,450.1 351.4,449.1 352.3,452.5 356.9,451.9 357.4,455.4 362.1,455 362.1,458.6 366.8,458.6 366.4,462.1 371,462.4 370.2,465.9 374.8,466.6 373.5,470.1 377.9,471 376.3,474.4 380.6,475.7 378.5,479 382.6,480.6 380.2,483.7 384,485.6 381.2,488.5" fill="url(#rg47)"/>
<path d="M381.1,500.9 L380,505.7 L378.4,510.4 L376.2,515.1 L373.5,519.5 L370.2,523.8 L366.5,527.9 L362.3,531.7 L357.6,535.2 L352.6,538.4 L347.3,541.2 L341.6,543.6 L335.7,545.7 L329.6,547.3 L323.4,548.5 L317.1,549.3 L310.7,549.7 L304.4,549.5 L298.1,549 L291.9,548 L285.9,546.6 L280.2,544.7 L274.7,542.4 L269.5,539.8 L264.7,536.8 L260.3,533.4 L256.4,529.8 L252.9,525.9 L249.9,521.7 L247.5,517.3 L245.6,512.7" fill="none" stroke="#f4c3a5" stroke-width="1.6" stroke-opacity="0.75" stroke-linecap="round"/>
<path d="M245.5,486.6 L247.1,482.3 L249.3,478.1 L251.8,474.1 L254.8,470.2 L258.2,466.5 L261.9,463 L266.1,459.7 L270.5,456.8 L275.3,454.1 L280.3,451.7 L285.5,449.6 L290.9,447.8 L296.5,446.4 L302.2,445.4 L307.9,444.7 L313.7,444.4 L319.5,444.4 L325.2,444.8 L330.9,445.6 L336.4,446.7 L341.7,448.2 L346.9,450.1 L351.8,452.2 L356.4,454.7 L360.7,457.5 L364.7,460.6 L368.3,463.9 L371.5,467.4 L374.3,471.2 L376.7,475.1" fill="none" stroke="#5a2c18" stroke-width="1.4" stroke-opacity="0.45" stroke-linecap="round"/>
<ellipse cx="312.5" cy="497" rx="65.2" ry="49.5" transform="rotate(-5 312.5 497)" fill="none" stroke="#9c6a50" stroke-width="7.2" stroke-opacity="0.28" stroke-dasharray="1.6 1.9"/>
<path d="M770.5,530.4 L748.5,671.2 L748.4,678.3 L749.8,685.4 L752.7,692.4 L756.8,699.2 L762.3,705.7 L768.9,711.8 L776.7,717.3 L785.3,722.1 L794.8,726.3 L804.9,729.6 L815.5,732.1 L826.4,733.7 L837.3,734.4 L848.2,734.1 L858.8,733 L868.9,730.9 L878.4,728 L887.1,724.2 L894.8,719.7 L901.5,714.5 L907,708.7 L911.2,702.4 L914.1,695.7 L915.5,688.8 L953.5,549.6 L951.9,557.1 L948.8,564.2 L944.2,571 L938.2,577.2 L930.9,582.7 L922.4,587.6 L912.9,591.6 L902.5,594.8 L891.4,597 L879.8,598.2 L867.9,598.4 L855.9,597.7 L844,595.9 L832.5,593.2 L821.4,589.6 L811,585.1 L801.5,579.9 L793,574 L785.7,567.5 L779.7,560.5 L775.1,553.2 L772.1,545.6 L770.5,538Z" fill="url(#lg27)"/>
<polygon clip-path="url(#cp28)" points="869,552 881,552 884,577 885,579 893,597 885,621 874.7,653 868,680 860,712 838,712 846.7,680 850.7,666.7 862.7,626.7 872,600 869,580" fill="#1a3de0"/>
<ellipse cx="862" cy="541" rx="92" ry="58" transform="rotate(6 862 541)" fill="#fafafa"/>
<ellipse cx="862" cy="540" rx="91.5" ry="57.2" transform="rotate(6 862 540)" fill="#e4e4e4"/>
<polygon clip-path="url(#cp29)" points="869,552 881,552 884,577 885,579 893,597 885,621 874.7,653 868,680 860,712 838,712 846.7,680 850.7,666.7 862.7,626.7 872,600 869,580" fill="#1a3de0"/>
<ellipse cx="863" cy="538" rx="68" ry="42" transform="rotate(6 863 538)" fill="#ad826a"/>
<polygon clip-path="url(#cp30)" points="869,552 881,552 884,577 885,579 893,597 885,621 874.7,653 868,680 860,712 838,712 846.7,680 850.7,666.7 862.7,626.7 872,600 869,580" fill="#14269a"/>
<path d="M810.4,452.6 L800.4,512.1 L800.4,517.2 L801.5,522.4 L803.8,527.5 L807.1,532.4 L811.4,537.1 L816.7,541.5 L822.8,545.6 L829.7,549.1 L837.1,552.2 L845.1,554.7 L853.4,556.6 L861.9,557.8 L870.5,558.4 L879.1,558.3 L887.4,557.5 L895.3,556 L902.7,554 L909.5,551.3 L915.6,548.1 L920.8,544.4 L925.1,540.2 L928.3,535.7 L930.5,530.9 L931.6,525.9 L951.6,467.4 L950.3,474.2 L947.8,480.8 L944.1,487 L939.4,492.8 L933.6,498 L927,502.5 L919.6,506.3 L911.5,509.4 L902.9,511.5 L893.9,512.8 L884.7,513.2 L875.5,512.7 L866.3,511.3 L857.4,509 L848.9,505.9 L840.9,501.9 L833.6,497.3 L827.2,492 L821.6,486.2 L817.1,479.9 L813.6,473.3 L811.4,466.5 L810.3,459.5Z" fill="url(#lg31)"/>
<path d="M810.4,452.6 L800.4,512.1 L800.4,517.2 L801.5,522.4 L803.8,527.5 L807.1,532.4 L811.4,537.1 L816.7,541.5 L822.8,545.6 L829.7,549.1 L837.1,552.2 L845.1,554.7 L853.4,556.6 L861.9,557.8 L870.5,558.4 L879.1,558.3 L887.4,557.5 L895.3,556 L902.7,554 L909.5,551.3 L915.6,548.1 L920.8,544.4 L925.1,540.2 L928.3,535.7 L930.5,530.9 L931.6,525.9 L951.6,467.4 L950.3,474.2 L947.8,480.8 L944.1,487 L939.4,492.8 L933.6,498 L927,502.5 L919.6,506.3 L911.5,509.4 L902.9,511.5 L893.9,512.8 L884.7,513.2 L875.5,512.7 L866.3,511.3 L857.4,509 L848.9,505.9 L840.9,501.9 L833.6,497.3 L827.2,492 L821.6,486.2 L817.1,479.9 L813.6,473.3 L811.4,466.5 L810.3,459.5Z" fill="url(#lg32)"/>
<polygon points="951.6,471.2 948.5,473.4 950.7,476.3 947.3,478.2 949.2,481.2 945.5,482.8 947.1,486 943.2,487.3 944.3,490.6 940.2,491.6 940.9,494.9 936.7,495.6 937,498.9 932.7,499.3 932.6,502.6 928.2,502.7 927.7,505.9 923.3,505.7 922.3,508.9 917.9,508.3 916.6,511.4 912.2,510.5 910.5,513.5 906.3,512.3 904.1,515.1 900.1,513.6 897.6,516.2 893.7,514.5 890.8,516.9 887.2,514.9 884,517 880.6,514.8 877.2,516.7 874,514.2 870.4,515.8 867.5,513.2 863.7,514.5 861.2,511.7 857.1,512.7 855,509.7 850.8,510.5 849.1,507.3 844.7,507.8 843.4,504.6 839,504.7 838.1,501.4 833.7,501.2 833.2,497.9 828.9,497.3 828.8,494 824.5,493.2 824.8,489.9 820.6,488.8 821.4,485.6 817.3,484.1 818.5,481 814.6,479.3 816.2,476.3 812.6,474.3 814.5,471.4 811.1,469.2 813.5,466.5 810.3,464.1 813,461.6 810.2,458.9 813.2,456.7 810.7,453.8 814,451.8 811.9,448.8 815.5,447.1 813.8,444 817.6,442.5 816.2,439.3 820.2,438.1 819.3,434.9 823.4,434 822.9,430.7 827.2,430.1 827.1,426.8 831.5,426.6 831.8,423.3 836.2,423.4 837,420.1 841.4,420.5 842.5,417.4 846.9,418.1 848.4,415.1 852.7,416.1 854.7,413.3 858.8,414.6 861.1,411.9 865.1,413.5 867.8,411 871.6,412.9 874.6,410.6 878.1,412.7 881.4,410.7 884.7,413 888.2,411.3 891.2,413.8 895,412.4 897.7,415.1 901.6,413.9 903.9,416.8 908.1,416 910,419 914.3,418.4 915.8,421.6 920.2,421.3 921.3,424.6 925.7,424.6 926.4,427.9 930.8,428.3 931.1,431.6 935.4,432.3 935.3,435.6 939.5,436.6 939,439.8 943.1,441.1 942.1,444.3 946.1,445.9 944.7,448.9 948.5,450.8 946.7,453.7 950.2,455.8 948.1,458.6 951.4,461 948.8,463.5 951.8,466.1 949,468.5" fill="#3c1a0d"/>
<polygon points="951.6,469.8 948.5,472 950.7,474.9 947.3,476.8 949.2,479.8 945.5,481.4 947.1,484.6 943.2,485.9 944.3,489.2 940.2,490.2 940.9,493.5 936.7,494.2 937,497.5 932.7,497.9 932.6,501.2 928.2,501.3 927.7,504.5 923.3,504.3 922.3,507.5 917.9,506.9 916.6,510 912.2,509.1 910.5,512.1 906.3,510.9 904.1,513.7 900.1,512.2 897.6,514.8 893.7,513.1 890.8,515.5 887.2,513.5 884,515.6 880.6,513.4 877.2,515.3 874,512.8 870.4,514.4 867.5,511.8 863.7,513.1 861.2,510.3 857.1,511.3 855,508.3 850.8,509.1 849.1,505.9 844.7,506.4 843.4,503.2 839,503.3 838.1,500 833.7,499.8 833.2,496.5 828.9,495.9 828.8,492.6 824.5,491.8 824.8,488.5 820.6,487.4 821.4,484.2 817.3,482.7 818.5,479.6 814.6,477.9 816.2,474.9 812.6,472.9 814.5,470 811.1,467.8 813.5,465.1 810.3,462.7 813,460.2 810.2,457.5 813.2,455.3 810.7,452.4 814,450.4 811.9,447.4 815.5,445.7 813.8,442.6 817.6,441.1 816.2,437.9 820.2,436.7 819.3,433.5 823.4,432.6 822.9,429.3 827.2,428.7 827.1,425.4 831.5,425.2 831.8,421.9 836.2,422 837,418.7 841.4,419.1 842.5,416 846.9,416.7 848.4,413.7 852.7,414.7 854.7,411.9 858.8,413.2 861.1,410.5 865.1,412.1 867.8,409.6 871.6,411.5 874.6,409.2 878.1,411.3 881.4,409.3 884.7,411.6 888.2,409.9 891.2,412.4 895,411 897.7,413.7 901.6,412.5 903.9,415.4 908.1,414.6 910,417.6 914.3,417 915.8,420.2 920.2,419.9 921.3,423.2 925.7,423.2 926.4,426.5 930.8,426.9 931.1,430.2 935.4,430.9 935.3,434.2 939.5,435.2 939,438.4 943.1,439.7 942.1,442.9 946.1,444.5 944.7,447.5 948.5,449.4 946.7,452.3 950.2,454.4 948.1,457.2 951.4,459.6 948.8,462.1 951.8,464.7 949,467.1" fill="url(#lg33)"/>
<polygon points="951.6,467.4 948.1,469.5 950.7,472.5 947,474.3 949.2,477.4 945.2,478.9 947.1,482.2 942.9,483.4 944.3,486.8 939.9,487.6 940.9,491.1 936.4,491.6 937,495.1 932.4,495.3 932.6,498.8 928,498.7 927.7,502.1 923,501.7 922.3,505.1 917.7,504.3 916.6,507.6 912.1,506.5 910.5,509.7 906.1,508.3 904.1,511.3 900,509.6 897.6,512.4 893.6,510.4 890.8,513.1 887.1,510.8 884,513.2 880.6,510.7 877.2,512.9 874.1,510.2 870.4,512 867.6,509.1 863.7,510.7 861.3,507.6 857.1,508.9 855.1,505.7 850.8,506.7 849.2,503.3 844.7,504 843.6,500.5 839,500.9 838.3,497.4 833.7,497.4 833.5,493.9 828.9,493.5 829,490.1 824.5,489.4 825.1,486 820.6,485 821.7,481.7 817.3,480.3 818.8,477.1 814.6,475.5 816.5,472.4 812.6,470.5 814.9,467.6 811.1,465.4 813.8,462.7 810.3,460.3 813.4,457.8 810.2,455.1 813.6,452.9 810.7,450 814.4,448.1 811.9,445 815.8,443.4 813.8,440.2 817.9,438.8 816.2,435.5 820.5,434.5 819.3,431.1 823.7,430.3 822.9,426.9 827.5,426.5 827.1,423 831.7,423 831.8,419.5 836.4,419.8 837,416.3 841.6,417 842.5,413.6 847,414.5 848.4,411.3 852.9,412.6 854.7,409.5 858.9,411 861.1,408.1 865.2,409.9 867.8,407.2 871.6,409.3 874.6,406.8 878.1,409.2 881.4,406.9 884.7,409.5 888.2,407.5 891.2,410.3 895,408.6 897.6,411.6 901.6,410.1 903.8,413.3 908.1,412.2 909.9,415.4 914.3,414.6 915.6,418 920.2,417.5 921.1,421 925.7,420.8 926.1,424.3 930.8,424.5 930.8,428 935.4,428.5 935,431.9 939.5,432.8 938.7,436.1 943.1,437.3 941.8,440.6 946.1,442.1 944.4,445.2 948.5,447 946.4,450 950.2,452 947.7,454.8 951.4,457.2 948.5,459.7 951.8,462.3 948.6,464.6" fill="url(#rg34)"/>
<path d="M946.2,476.4 L944.3,480.8 L941.9,484.9 L938.9,488.9 L935.4,492.6 L931.5,496.1 L927.2,499.2 L922.4,502 L917.3,504.5 L911.9,506.6 L906.2,508.2 L900.4,509.5 L894.3,510.4 L888.2,510.8 L881.9,510.8 L875.7,510.3 L869.5,509.5 L863.4,508.2 L857.5,506.5 L851.8,504.4 L846.3,501.9 L841.1,499.1 L836.2,496 L831.8,492.5 L827.7,488.8 L824.1,484.8 L821,480.6 L818.4,476.2 L816.3,471.7 L814.7,467.1 L813.8,462.5" fill="none" stroke="#f4c3a5" stroke-width="1.6" stroke-opacity="0.75" stroke-linecap="round"/>
<path d="M818.5,437.7 L820.9,434 L823.7,430.4 L826.9,427 L830.5,423.9 L834.4,421.1 L838.7,418.5 L843.3,416.1 L848.1,414.2 L853.1,412.5 L858.4,411.1 L863.8,410.1 L869.4,409.5 L875,409.2 L880.6,409.2 L886.3,409.7 L891.9,410.4 L897.5,411.5 L902.9,413 L908.2,414.8 L913.3,416.9 L918.1,419.3 L922.7,422 L927,425 L931,428.2 L934.7,431.6 L937.9,435.2 L940.8,439 L943.2,443 L945.2,447 L946.8,451.2" fill="none" stroke="#5a2c18" stroke-width="1.4" stroke-opacity="0.45" stroke-linecap="round"/>
<ellipse cx="881" cy="460" rx="63.9" ry="47.7" transform="rotate(6 881 460)" fill="none" stroke="#9c6a50" stroke-width="7.1" stroke-opacity="0.28" stroke-dasharray="1.6 1.9"/>
<path d="M380.1,658.4 L402.1,748.1 L403.1,755.7 L405.6,763 L409.7,770.1 L415.1,776.7 L421.9,782.8 L429.8,788.2 L438.9,792.9 L448.8,796.8 L459.4,799.8 L470.7,801.8 L482.3,802.9 L494,803 L505.7,802.1 L517.2,800.2 L528.3,797.4 L538.7,793.6 L548.4,789.1 L557,783.8 L564.6,777.8 L570.9,771.3 L575.9,764.3 L579.4,757 L581.4,749.5 L581.9,741.9 L573.9,651.6 L573.5,662.3 L571.4,672.9 L567.7,683.2 L562.4,693 L555.7,702.2 L547.6,710.6 L538.3,718 L527.9,724.3 L516.7,729.4 L504.9,733.3 L492.5,735.8 L479.9,737 L467.2,736.7 L454.7,735 L442.5,732 L431,727.7 L420.3,722.1 L410.5,715.3 L401.8,707.6 L394.5,698.9 L388.5,689.5 L384.1,679.5 L381.3,669.1Z" fill="url(#lg48)"/>
<ellipse cx="477" cy="656" rx="97" ry="82" transform="rotate(-2 477 656)" fill="#f99a72"/>
<ellipse cx="477" cy="655" rx="96.5" ry="81.2" transform="rotate(-2 477 655)" fill="#ee7a4f"/>
<ellipse cx="476" cy="658" rx="72" ry="52" transform="rotate(-2 476 658)" fill="#d4603a"/>
<ellipse cx="476" cy="656.5" rx="68.5" ry="48.5" transform="rotate(-2 476 656.5)" fill="none" stroke="#d79a78" stroke-width="1.2" stroke-opacity="0.8"/>
<path d="M391,597.6 L403,654.3 L403.8,659 L405.6,663.6 L408.6,667.9 L412.6,672 L417.6,675.8 L423.5,679.1 L430.2,682 L437.6,684.3 L445.5,686.1 L453.9,687.4 L462.5,688 L471.3,688 L480,687.4 L488.5,686.1 L496.8,684.3 L504.6,682 L511.8,679.1 L518.2,675.8 L523.9,672 L528.6,668 L532.3,663.6 L535,659.1 L536.6,654.4 L537,649.7 L539,592.4 L538.6,600.9 L537,609.3 L534.2,617.5 L530.2,625.2 L525.1,632.5 L518.9,639.1 L511.8,645 L503.9,650 L495.4,654 L486.3,657.1 L476.9,659.1 L467.3,660 L457.6,659.7 L448.1,658.4 L438.8,656 L430,652.5 L421.8,648.1 L414.3,642.8 L407.7,636.6 L402.1,629.7 L397.5,622.2 L394.2,614.3 L392,606Z" fill="url(#lg49)"/>
<path d="M391,597.6 L403,654.3 L403.8,659 L405.6,663.6 L408.6,667.9 L412.6,672 L417.6,675.8 L423.5,679.1 L430.2,682 L437.6,684.3 L445.5,686.1 L453.9,687.4 L462.5,688 L471.3,688 L480,687.4 L488.5,686.1 L496.8,684.3 L504.6,682 L511.8,679.1 L518.2,675.8 L523.9,672 L528.6,668 L532.3,663.6 L535,659.1 L536.6,654.4 L537,649.7 L539,592.4 L538.6,600.9 L537,609.3 L534.2,617.5 L530.2,625.2 L525.1,632.5 L518.9,639.1 L511.8,645 L503.9,650 L495.4,654 L486.3,657.1 L476.9,659.1 L467.3,660 L457.6,659.7 L448.1,658.4 L438.8,656 L430,652.5 L421.8,648.1 L414.3,642.8 L407.7,636.6 L402.1,629.7 L397.5,622.2 L394.2,614.3 L392,606Z" fill="url(#lg50)"/>
<polygon points="539,596.2 536,599.2 538.8,602.2 535.6,605 538.1,608.2 534.6,610.7 536.8,614.1 533,616.3 534.8,619.9 530.8,621.7 532.2,625.4 528.1,627 529.1,630.8 524.8,632 525.4,635.9 521,636.7 521.2,640.7 516.7,641.1 516.5,645.1 512,645.2 511.4,649.1 506.9,648.8 505.9,652.7 501.4,652.1 500,655.8 495.7,654.8 493.8,658.4 489.6,657.1 487.4,660.6 483.4,658.9 480.8,662.2 477,660.2 474.1,663.2 470.5,661 467.3,663.8 463.9,661.2 460.4,663.7 457.3,660.9 453.6,663.1 450.9,660.1 446.9,662 444.5,658.7 440.4,660.3 438.3,656.8 434.1,658.1 432.4,654.5 428,655.4 426.7,651.6 422.2,652.2 421.3,648.4 416.9,648.5 416.3,644.6 411.9,644.5 411.8,640.5 407.3,640 407.7,636.1 403.3,635.2 404,631.3 399.8,630.1 400.9,626.3 396.9,624.7 398.4,621 394.5,619.1 396.4,615.5 392.7,613.3 395,609.9 391.6,607.4 394.2,604.2 391,601.4 394,598.4 391.2,595.4 394.4,592.6 391.9,589.4 395.4,586.9 393.2,583.5 397,581.3 395.2,577.7 399.2,575.9 397.8,572.2 401.9,570.6 400.9,566.8 405.2,565.6 404.6,561.7 409,560.9 408.8,556.9 413.3,556.5 413.5,552.5 418,552.4 418.6,548.5 423.1,548.8 424.1,544.9 428.6,545.5 430,541.8 434.3,542.8 436.2,539.2 440.4,540.5 442.6,537 446.6,538.7 449.2,535.4 453,537.4 455.9,534.4 459.5,536.6 462.7,533.8 466.1,536.4 469.6,533.9 472.7,536.7 476.4,534.5 479.1,537.5 483.1,535.6 485.5,538.9 489.6,537.3 491.7,540.8 495.9,539.5 497.6,543.1 502,542.2 503.3,546 507.8,545.4 508.7,549.2 513.1,549.1 513.7,553 518.1,553.1 518.2,557.1 522.7,557.6 522.3,561.5 526.7,562.4 526,566.3 530.2,567.5 529.1,571.3 533.1,572.9 531.6,576.6 535.5,578.5 533.6,582.1 537.3,584.3 535,587.7 538.4,590.2 535.8,593.4" fill="#3c1a0d"/>
<polygon points="539,594.8 536,597.8 538.8,600.8 535.6,603.6 538.1,606.8 534.6,609.3 536.8,612.7 533,614.9 534.8,618.5 530.8,620.3 532.2,624 528.1,625.6 529.1,629.4 524.8,630.6 525.4,634.5 521,635.3 521.2,639.3 516.7,639.7 516.5,643.7 512,643.8 511.4,647.7 506.9,647.4 505.9,651.3 501.4,650.7 500,654.4 495.7,653.4 493.8,657 489.6,655.7 487.4,659.2 483.4,657.5 480.8,660.8 477,658.8 474.1,661.8 470.5,659.6 467.3,662.4 463.9,659.8 460.4,662.3 457.3,659.5 453.6,661.7 450.9,658.7 446.9,660.6 444.5,657.3 440.4,658.9 438.3,655.4 434.1,656.7 432.4,653.1 428,654 426.7,650.2 422.2,650.8 421.3,647 416.9,647.1 416.3,643.2 411.9,643.1 411.8,639.1 407.3,638.6 407.7,634.7 403.3,633.8 404,629.9 399.8,628.7 400.9,624.9 396.9,623.3 398.4,619.6 394.5,617.7 396.4,614.1 392.7,611.9 395,608.5 391.6,606 394.2,602.8 391,600 394,597 391.2,594 394.4,591.2 391.9,588 395.4,585.5 393.2,582.1 397,579.9 395.2,576.3 399.2,574.5 397.8,570.8 401.9,569.2 400.9,565.4 405.2,564.2 404.6,560.3 409,559.5 408.8,555.5 413.3,555.1 413.5,551.1 418,551 418.6,547.1 423.1,547.4 424.1,543.5 428.6,544.1 430,540.4 434.3,541.4 436.2,537.8 440.4,539.1 442.6,535.6 446.6,537.3 449.2,534 453,536 455.9,533 459.5,535.2 462.7,532.4 466.1,535 469.6,532.5 472.7,535.3 476.4,533.1 479.1,536.1 483.1,534.2 485.5,537.5 489.6,535.9 491.7,539.4 495.9,538.1 497.6,541.7 502,540.8 503.3,544.6 507.8,544 508.7,547.8 513.1,547.7 513.7,551.6 518.1,551.7 518.2,555.7 522.7,556.2 522.3,560.1 526.7,561 526,564.9 530.2,566.1 529.1,569.9 533.1,571.5 531.6,575.2 535.5,577.1 533.6,580.7 537.3,582.9 535,586.3 538.4,588.8 535.8,592" fill="url(#lg51)"/>
<polygon points="539,592.4 535.7,595.4 538.8,598.4 535.2,601.1 538.1,604.4 534.2,606.8 536.8,610.3 532.7,612.4 534.8,616.1 530.5,617.8 532.2,621.6 527.8,623 529.1,627 524.5,628 525.4,632.1 520.7,632.7 521.2,636.9 516.5,637.1 516.5,641.3 511.8,641.2 511.4,645.3 506.7,644.8 505.9,648.9 501.3,648 500,652 495.5,650.8 493.8,654.6 489.5,653 487.4,656.8 483.3,654.8 480.8,658.4 476.9,656.1 474.1,659.4 470.4,656.9 467.3,660 463.9,657.1 460.4,659.9 457.4,656.8 453.6,659.3 450.9,656 446.9,658.2 444.6,654.6 440.4,656.5 438.5,652.7 434.1,654.3 432.5,650.4 428,651.6 426.9,647.6 422.2,648.4 421.5,644.3 416.9,644.7 416.6,640.6 411.9,640.7 412,636.5 407.3,636.2 408,632.1 403.3,631.4 404.4,627.3 399.8,626.3 401.3,622.3 396.9,620.9 398.7,617.1 394.5,615.3 396.7,611.6 392.7,609.5 395.3,606 391.6,603.6 394.5,600.3 391,597.6 394.3,594.6 391.2,591.6 394.8,588.9 391.9,585.6 395.8,583.2 393.2,579.7 397.3,577.6 395.2,573.9 399.5,572.2 397.8,568.4 402.2,567 400.9,563 405.5,562 404.6,557.9 409.3,557.3 408.8,553.1 413.5,552.9 413.5,548.7 418.2,548.8 418.6,544.7 423.3,545.2 424.1,541.1 428.7,542 430,538 434.5,539.2 436.2,535.4 440.5,537 442.6,533.2 446.7,535.2 449.2,531.6 453.1,533.9 455.9,530.6 459.6,533.1 462.7,530 466.1,532.9 469.6,530.1 472.6,533.2 476.4,530.7 479.1,534 483.1,531.8 485.4,535.4 489.6,533.5 491.5,537.3 495.9,535.7 497.5,539.6 502,538.4 503.1,542.4 507.8,541.6 508.5,545.7 513.1,545.3 513.4,549.4 518.1,549.3 518,553.5 522.7,553.8 522,557.9 526.7,558.6 525.6,562.7 530.2,563.7 528.7,567.7 533.1,569.1 531.3,572.9 535.5,574.7 533.3,578.4 537.3,580.5 534.7,584 538.4,586.4 535.5,589.7" fill="url(#rg52)"/>
<path d="M534.8,604.2 L533.5,609.8 L531.6,615.3 L529.1,620.6 L526.1,625.7 L522.6,630.5 L518.6,635.1 L514.1,639.3 L509.2,643.1 L503.9,646.5 L498.3,649.5 L492.5,652 L486.4,654 L480.1,655.5 L473.7,656.5 L467.2,657 L460.7,657 L454.2,656.4 L447.8,655.4 L441.6,653.8 L435.5,651.7 L429.8,649.1 L424.3,646.1 L419.1,642.6 L414.4,638.7 L410.1,634.5 L406.2,629.9 L402.8,625 L400,619.9 L397.7,614.6 L396,609" fill="none" stroke="#f4c3a5" stroke-width="1.6" stroke-opacity="0.75" stroke-linecap="round"/>
<path d="M397.2,578.2 L399.1,573.2 L401.4,568.4 L404.2,563.8 L407.4,559.5 L411.1,555.3 L415.1,551.5 L419.4,547.9 L424.1,544.7 L429.1,541.8 L434.3,539.3 L439.7,537.2 L445.3,535.5 L451.1,534.2 L456.9,533.4 L462.8,533 L468.8,533 L474.6,533.4 L480.5,534.3 L486.2,535.6 L491.7,537.3 L497.1,539.4 L502.3,542 L507.2,544.8 L511.8,548.1 L516,551.7 L519.9,555.5 L523.5,559.7 L526.6,564.1 L529.3,568.7 L531.5,573.5" fill="none" stroke="#5a2c18" stroke-width="1.4" stroke-opacity="0.45" stroke-linecap="round"/>
<ellipse cx="465" cy="595" rx="66.6" ry="58.5" transform="rotate(-2 465 595)" fill="none" stroke="#9c6a50" stroke-width="7.4" stroke-opacity="0.28" stroke-dasharray="1.6 1.9"/>
<path d="M650.1,644.8 L648.1,725.1 L648.5,733.2 L650.5,741.3 L654,749.1 L659.1,756.7 L665.6,763.8 L673.3,770.3 L682.3,776.1 L692.3,781.2 L703.1,785.3 L714.6,788.5 L726.5,790.7 L738.8,791.9 L751,792 L763.2,791.1 L774.9,789.1 L786.1,786.1 L796.6,782.1 L806.1,777.3 L814.5,771.6 L821.7,765.2 L827.5,758.2 L831.8,750.8 L834.6,743 L835.9,734.9 L849.9,655.2 L848.5,665.6 L845.4,675.7 L840.7,685.4 L834.4,694.5 L826.7,702.8 L817.7,710.2 L807.5,716.6 L796.3,721.8 L784.3,725.8 L771.8,728.5 L758.9,729.9 L745.8,729.9 L732.8,728.5 L720.1,725.8 L707.9,721.8 L696.4,716.6 L685.9,710.2 L676.4,702.8 L668.2,694.5 L661.4,685.4 L656.1,675.7 L652.5,665.6 L650.4,655.2Z" fill="url(#lg35)"/>
<ellipse cx="750" cy="651" rx="100" ry="80" transform="rotate(3 750 651)" fill="#2f58f4"/>
<ellipse cx="750" cy="650" rx="99.5" ry="79.2" transform="rotate(3 750 650)" fill="#1a3cde"/>
<ellipse cx="751" cy="658" rx="73" ry="50" transform="rotate(3 751 658)" fill="#142cb0"/>
<ellipse cx="751" cy="656.5" rx="69.5" ry="46.5" transform="rotate(3 751 656.5)" fill="none" stroke="#d79a78" stroke-width="1.2" stroke-opacity="0.8"/>
<path d="M686.1,583.1 L679.1,644.2 L679.5,649.1 L681,653.9 L683.8,658.7 L687.8,663.2 L692.8,667.5 L698.8,671.5 L705.7,675 L713.4,678.1 L721.7,680.7 L730.5,682.7 L739.7,684.1 L749.1,684.9 L758.5,685.1 L767.7,684.7 L776.7,683.6 L785.3,681.9 L793.2,679.6 L800.5,676.8 L806.9,673.5 L812.3,669.7 L816.7,665.6 L820,661.2 L822,656.6 L822.9,651.8 L835.9,590.9 L834.8,599.1 L832.5,607.1 L828.9,614.7 L824.2,621.9 L818.4,628.4 L811.6,634.3 L804,639.3 L795.6,643.4 L786.6,646.6 L777.2,648.8 L767.5,649.9 L757.7,649.9 L748,648.9 L738.4,646.8 L729.3,643.6 L720.7,639.5 L712.8,634.5 L705.7,628.7 L699.6,622.2 L694.5,615.1 L690.5,607.4 L687.8,599.5 L686.3,591.3Z" fill="url(#lg36)"/>
<path d="M686.1,583.1 L679.1,644.2 L679.5,649.1 L681,653.9 L683.8,658.7 L687.8,663.2 L692.8,667.5 L698.8,671.5 L705.7,675 L713.4,678.1 L721.7,680.7 L730.5,682.7 L739.7,684.1 L749.1,684.9 L758.5,685.1 L767.7,684.7 L776.7,683.6 L785.3,681.9 L793.2,679.6 L800.5,676.8 L806.9,673.5 L812.3,669.7 L816.7,665.6 L820,661.2 L822,656.6 L822.9,651.8 L835.9,590.9 L834.8,599.1 L832.5,607.1 L828.9,614.7 L824.2,621.9 L818.4,628.4 L811.6,634.3 L804,639.3 L795.6,643.4 L786.6,646.6 L777.2,648.8 L767.5,649.9 L757.7,649.9 L748,648.9 L738.4,646.8 L729.3,643.6 L720.7,639.5 L712.8,634.5 L705.7,628.7 L699.6,622.2 L694.5,615.1 L690.5,607.4 L687.8,599.5 L686.3,591.3Z" fill="url(#lg37)"/>
<polygon points="835.9,594.7 832.7,597.3 835.3,600.4 831.8,602.8 834.1,606.1 830.3,608.1 832.2,611.6 828.3,613.3 829.8,616.9 825.7,618.3 826.8,622 822.6,623.1 823.3,626.8 818.9,627.6 819.2,631.4 814.8,631.8 814.7,635.6 810.2,635.7 809.7,639.5 805.2,639.2 804.3,642.9 799.9,642.3 798.6,645.9 794.2,645 792.5,648.5 788.3,647.2 786.2,650.5 782.1,649 779.7,652.1 775.8,650.2 773,653.2 769.3,651 766.2,653.8 762.7,651.3 759.4,653.8 756.2,651.1 752.6,653.3 749.7,650.4 745.9,652.3 743.3,649.2 739.2,650.8 737,647.5 732.8,648.8 730.9,645.3 726.6,646.3 725.1,642.7 720.7,643.3 719.6,639.6 715.1,639.9 714.4,636.2 709.9,636.1 709.6,632.4 705.1,632 705.2,628.2 700.8,627.5 701.3,623.7 697,622.6 697.9,619 693.7,617.6 695,614 691,612.3 692.7,608.8 688.8,606.8 690.9,603.5 687.3,601.2 689.7,598 686.4,595.5 689.1,592.5 686,589.7 689.1,587 686.3,584 689.7,581.6 687.2,578.3 690.9,576.2 688.8,572.8 692.6,570.9 690.9,567.4 694.9,565.8 693.6,562.1 697.8,560.9 696.9,557.1 701.2,556.2 700.7,552.4 705.1,551.8 705,548.1 709.5,547.8 709.7,544 714.2,544.1 714.9,540.4 719.4,540.8 720.5,537.1 724.9,537.9 726.4,534.4 730.7,535.4 732.6,532 736.8,533.4 739,530.2 743.1,531.9 745.6,528.9 749.5,530.9 752.4,528.1 756,530.4 759.2,527.8 762.5,530.3 766,528 769.1,530.8 772.8,528.7 775.5,531.8 779.5,530 781.9,533.2 786,531.8 788.1,535.2 792.3,534 794,537.5 798.4,536.7 799.7,540.4 804.1,539.9 805.1,543.6 809.5,543.5 810,547.3 814.5,547.5 814.6,551.3 819.1,551.8 818.8,555.6 823.2,556.5 822.4,560.2 826.7,561.5 825.6,565.1 829.7,566.7 828.2,570.2 832.2,572.1 830.3,575.5 834,577.6 831.8,580.8 835.3,583.3 832.7,586.3 835.9,589 833,591.8" fill="#3c1a0d"/>
<polygon points="835.9,593.3 832.7,595.9 835.3,599 831.8,601.4 834.1,604.7 830.3,606.7 832.2,610.2 828.3,611.9 829.8,615.5 825.7,616.9 826.8,620.6 822.6,621.7 823.3,625.4 818.9,626.2 819.2,630 814.8,630.4 814.7,634.2 810.2,634.3 809.7,638.1 805.2,637.8 804.3,641.5 799.9,640.9 798.6,644.5 794.2,643.6 792.5,647.1 788.3,645.8 786.2,649.1 782.1,647.6 779.7,650.7 775.8,648.8 773,651.8 769.3,649.6 766.2,652.4 762.7,649.9 759.4,652.4 756.2,649.7 752.6,651.9 749.7,649 745.9,650.9 743.3,647.8 739.2,649.4 737,646.1 732.8,647.4 730.9,643.9 726.6,644.9 725.1,641.3 720.7,641.9 719.6,638.2 715.1,638.5 714.4,634.8 709.9,634.7 709.6,631 705.1,630.6 705.2,626.8 700.8,626.1 701.3,622.3 697,621.2 697.9,617.6 693.7,616.2 695,612.6 691,610.9 692.7,607.4 688.8,605.4 690.9,602.1 687.3,599.8 689.7,596.6 686.4,594.1 689.1,591.1 686,588.3 689.1,585.6 686.3,582.6 689.7,580.2 687.2,576.9 690.9,574.8 688.8,571.4 692.6,569.5 690.9,566 694.9,564.4 693.6,560.7 697.8,559.5 696.9,555.7 701.2,554.8 700.7,551 705.1,550.4 705,546.7 709.5,546.4 709.7,542.6 714.2,542.7 714.9,539 719.4,539.4 720.5,535.7 724.9,536.5 726.4,533 730.7,534 732.6,530.6 736.8,532 739,528.8 743.1,530.5 745.6,527.5 749.5,529.5 752.4,526.7 756,529 759.2,526.4 762.5,528.9 766,526.6 769.1,529.4 772.8,527.3 775.5,530.4 779.5,528.6 781.9,531.8 786,530.4 788.1,533.8 792.3,532.6 794,536.1 798.4,535.3 799.7,539 804.1,538.5 805.1,542.2 809.5,542.1 810,545.9 814.5,546.1 814.6,549.9 819.1,550.4 818.8,554.2 823.2,555.1 822.4,558.8 826.7,560.1 825.6,563.7 829.7,565.3 828.2,568.8 832.2,570.7 830.3,574.1 834,576.2 831.8,579.4 835.3,581.9 832.7,584.9 835.9,587.6 833,590.4" fill="url(#lg38)"/>
<polygon points="835.9,590.9 832.3,593.5 835.3,596.6 831.4,598.9 834.1,602.3 830,604.2 832.2,607.8 827.9,609.4 829.8,613.1 825.4,614.4 826.8,618.2 822.2,619.1 823.3,623 818.6,623.6 819.2,627.6 814.5,627.8 814.7,631.8 809.9,631.7 809.7,635.7 805,635.2 804.3,639.1 799.7,638.2 798.6,642.1 794,640.9 792.5,644.7 788.1,643.1 786.2,646.7 782,644.9 779.7,648.3 775.7,646.1 773,649.4 769.2,646.9 766.2,650 762.7,647.2 759.4,650 756.2,647 752.6,649.5 749.7,646.3 745.9,648.5 743.4,645.1 739.2,647 737.1,643.4 732.8,645 731.1,641.2 726.6,642.5 725.3,638.6 720.7,639.5 719.8,635.6 715.1,636.1 714.6,632.2 709.9,632.3 709.9,628.4 705.1,628.2 705.5,624.2 700.8,623.7 701.6,619.7 697,618.8 698.3,615 693.7,613.8 695.4,610.1 691,608.5 693,604.9 688.8,603 691.3,599.6 687.3,597.4 690.1,594.2 686.4,591.7 689.5,588.7 686,585.9 689.5,583.3 686.3,580.2 690.1,577.8 687.2,574.5 691.2,572.4 688.8,569 693,567.2 690.9,563.6 695.3,562.1 693.6,558.3 698.1,557.2 696.9,553.3 701.5,552.6 700.7,548.6 705.4,548.2 705,544.3 709.7,544.2 709.7,540.2 714.5,540.5 714.9,536.6 719.6,537.2 720.5,533.3 725.1,534.4 726.4,530.6 730.9,531.9 732.6,528.2 736.9,529.9 739,526.4 743.2,528.4 745.6,525.1 749.5,527.4 752.4,524.3 756,526.9 759.2,524 762.5,526.8 766,524.2 769,527.3 772.8,524.9 775.5,528.3 779.5,526.2 781.8,529.7 786,528 787.9,531.6 792.3,530.2 793.8,534 798.4,532.9 799.5,536.8 804.1,536.1 804.8,540.1 809.5,539.7 809.8,543.7 814.5,543.7 814.4,547.7 819.1,548 818.5,552 823.2,552.7 822.1,556.6 826.7,557.7 825.3,561.4 829.7,562.9 827.9,566.5 832.2,568.3 829.9,571.7 834,573.8 831.4,577.1 835.3,579.5 832.3,582.5 835.9,585.2 832.6,588" fill="url(#rg39)"/>
<path d="M830.7,601.9 L828.9,607.2 L826.5,612.4 L823.5,617.3 L820,621.9 L816.1,626.3 L811.6,630.3 L806.8,634 L801.5,637.3 L795.9,640.1 L790,642.5 L783.8,644.4 L777.5,645.8 L771,646.8 L764.4,647.2 L757.9,647.1 L751.3,646.5 L744.8,645.4 L738.4,643.8 L732.3,641.7 L726.4,639.1 L720.8,636.2 L715.5,632.8 L710.6,629 L706.1,624.8 L702.1,620.3 L698.6,615.6 L695.7,610.6 L693.2,605.4 L691.4,600 L690.2,594.6" fill="none" stroke="#f4c3a5" stroke-width="1.6" stroke-opacity="0.75" stroke-linecap="round"/>
<path d="M693.9,564.9 L696.3,560.3 L699.1,555.8 L702.3,551.6 L705.9,547.7 L710,544 L714.3,540.6 L719,537.6 L724,534.9 L729.3,532.5 L734.8,530.6 L740.5,529 L746.3,527.9 L752.2,527.1 L758.2,526.8 L764.1,526.9 L770.1,527.4 L776,528.4 L781.8,529.7 L787.5,531.5 L793,533.6 L798.2,536.2 L803.2,539 L807.9,542.2 L812.3,545.8 L816.3,549.6 L819.9,553.7 L823.1,558 L825.8,562.5 L828.2,567.2 L830,572" fill="none" stroke="#5a2c18" stroke-width="1.4" stroke-opacity="0.45" stroke-linecap="round"/>
<ellipse cx="761" cy="587" rx="67.5" ry="56.7" transform="rotate(3 761 587)" fill="none" stroke="#9c6a50" stroke-width="7.5" stroke-opacity="0.28" stroke-dasharray="1.6 1.9"/>
<path d="M246,600 C247.8,603.7 251,613.2 257,622 C263,630.8 273.7,642.8 282,653 C290.3,663.2 297.3,673.5 307,683 C316.7,692.5 328.7,700.8 340,710 C351.3,719.2 363.7,728.7 375,738 C386.3,747.3 398.3,758.5 408,766 C417.7,773.5 425,778.8 433,783 C441,787.2 447.3,789.3 456,791 C464.7,792.7 473.8,793.7 485,793 C496.2,792.3 511.8,791.2 523,787 C534.2,782.8 543.7,775.3 552,768 C560.3,760.7 567.7,750.7 573,743 C578.3,735.3 582.2,725.5 584,722 C582.8,733.3 580.8,768.7 577,790 C573.2,811.3 566.2,831.7 561,850 C555.8,868.3 550.7,883.7 546,900 C541.3,916.3 535.2,940 533,948 L440,950 C427.8,944.5 389.7,930.8 367,917 C344.3,903.2 320.5,884.8 304,867 C287.5,849.2 277.7,827.8 268,810 C258.3,792.2 250.7,795 246,760 C241.3,725 241,626.7 240,600 Z" fill="#020202"/>
<path d="M246,600 C247.8,603.7 251,613.2 257,622 C263,630.8 273.7,642.8 282,653 C290.3,663.2 297.3,673.5 307,683 C316.7,692.5 328.7,700.8 340,710 C351.3,719.2 363.7,728.7 375,738 C386.3,747.3 398.3,758.5 408,766 C417.7,773.5 425,778.8 433,783 C441,787.2 452.2,789.7 456,791 L422,828 C418.2,826.7 407,824.2 399,820 C391,815.8 383.7,810.5 374,803 C364.3,795.5 352.3,784.3 341,775 C329.7,765.7 317.3,756.2 306,747 C294.7,737.8 282.7,729.5 273,720 C263.3,710.5 256.3,700.2 248,690 C239.7,679.8 229,667.8 223,659 C217,650.2 213.8,640.7 212,637 Z" fill="url(#lg63)" clip-path="url(#cp61)"/>
<path d="M246,600 C247.8,603.7 251,613.2 257,622 C263,630.8 273.7,642.8 282,653 C290.3,663.2 297.3,673.5 307,683 C316.7,692.5 328.7,700.8 340,710 C351.3,719.2 363.7,728.7 375,738 C386.3,747.3 398.3,758.5 408,766 C417.7,773.5 425,778.8 433,783 C441,787.2 452.2,789.7 456,791 L422,828 C418.2,826.7 407,824.2 399,820 C391,815.8 383.7,810.5 374,803 C364.3,795.5 352.3,784.3 341,775 C329.7,765.7 317.3,756.2 306,747 C294.7,737.8 282.7,729.5 273,720 C263.3,710.5 256.3,700.2 248,690 C239.7,679.8 229,667.8 223,659 C217,650.2 213.8,640.7 212,637 Z" fill="url(#lg64)" clip-path="url(#cp61)"/>
<path d="M408,766 C412.2,768.8 425,778.8 433,783 C441,787.2 447.3,789.3 456,791 C464.7,792.7 473.8,793.7 485,793 C496.2,792.3 511.8,791.2 523,787 C534.2,782.8 543.7,775.3 552,768 C560.3,760.7 567.7,750.7 573,743 C578.3,735.3 582.2,725.5 584,722 L584,722 C582.8,733.3 580.8,768.7 577,790 C573.2,811.3 566.2,831.7 561,850 C555.8,868.3 550.7,883.7 546,900 C541.3,916.3 535.2,940 533,948 L533,948 C517.5,948.7 455.5,951.3 440,952 L440,952 C437.5,947.5 429.8,935.8 425,925 C420.2,914.2 415.5,902 411,887 C406.5,872 402,850.8 398,835 C394,819.2 385.3,803.5 387,792 C388.7,780.5 404.5,770.3 408,766 Z" fill="url(#lg62)"/>
<ellipse cx="424" cy="806" rx="34" ry="22" transform="rotate(42 424 806)" fill="url(#rg66)" clip-path="url(#cp61)"/>
<path d="M408,766 C412.2,768.8 425,778.8 433,783 C441,787.2 447.3,789.3 456,791 C464.7,792.7 473.8,793.7 485,793 C496.2,792.3 511.8,791.2 523,787 C534.2,782.8 543.7,775.3 552,768 C560.3,760.7 567.7,750.7 573,743 C578.3,735.3 582.2,725.5 584,722 L584,722 C582.8,733.3 580.8,768.7 577,790 C573.2,811.3 566.2,831.7 561,850 C555.8,868.3 550.7,883.7 546,900 C541.3,916.3 535.2,940 533,948 L533,948 C517.5,948.7 455.5,951.3 440,952 L440,952 C437.5,947.5 429.8,935.8 425,925 C420.2,914.2 415.5,902 411,887 C406.5,872 402,850.8 398,835 C394,819.2 385.3,803.5 387,792 C388.7,780.5 404.5,770.3 408,766 Z" fill="url(#lg67)"/>
<g clip-path="url(#cpTrunk)"><rect x="390" y="720" width="200" height="240" filter="url(#nzk)" clip-path="url(#cpTrunkIn)" opacity="0.13"/></g>
<g clip-path="url(#cpTrunk)"><rect x="390" y="720" width="200" height="240" filter="url(#nzw)" clip-path="url(#cpTrunkIn)" opacity="0.16"/></g>
<g clip-path="url(#cpTrunk)"><rect x="390" y="720" width="200" height="240" filter="url(#nzv)" clip-path="url(#cpTrunkIn)" opacity="0.14"/></g>
<path d="M440,789 C442.7,789.8 448.5,792.8 456,794 C463.5,795.2 473.8,796.7 485,796 C496.2,795.3 511.8,794.2 523,790 C534.2,785.8 547.2,774.2 552,771" fill="none" stroke="#f2f2f2" stroke-width="3.5" stroke-opacity="0.8" stroke-dasharray="2 1.4"/>
<path d="M638,695 C639.8,699.5 646,713.5 649,722 C652,730.5 652.2,739 656,746 C659.8,753 664.2,758.5 672,764 C679.8,769.5 690.5,775.5 703,779 C715.5,782.5 732.8,785.3 747,785 C761.2,784.7 776.3,782.2 788,777 C799.7,771.8 809.3,762.7 817,754 C824.7,745.3 827.7,734 834,725 C840.3,716 848.2,707.5 855,700 C861.8,692.5 866.7,688.5 875,680 C883.3,671.5 894.2,660.2 905,649 C915.8,637.8 932.5,621.5 940,613 C947.5,604.5 948.3,600.5 950,598 C948,606.7 942.2,633 938,650 C933.8,667 929.2,683.3 925,700 C920.8,716.7 918,734.5 913,750 C908,765.5 903,777.7 895,793 C887,808.3 874.2,830.3 865,842 C855.8,853.7 844.2,859.5 840,863 C831.7,867.2 808.3,881.8 790,888 C771.7,894.2 751.7,899.3 730,900 C708.3,900.7 679.2,897 660,892 C640.8,887 622.5,873.7 615,870 C614.2,860 609.2,830 610,810 C610.8,790 615.3,769.2 620,750 C624.7,730.8 635,704.2 638,695 Z" fill="url(#lg69)"/>
<path d="M638,695 C639.8,699.5 646,713.5 649,722 C652,730.5 652.2,739 656,746 C659.8,753 664.2,758.5 672,764 C679.8,769.5 690.5,775.5 703,779 C715.5,782.5 732.8,785.3 747,785 C761.2,784.7 776.3,782.2 788,777 C799.7,771.8 809.3,762.7 817,754 C824.7,745.3 827.7,734 834,725 C840.3,716 848.2,707.5 855,700 C861.8,692.5 866.7,688.5 875,680 C883.3,671.5 894.2,660.2 905,649 C915.8,637.8 932.5,621.5 940,613 C947.5,604.5 948.3,600.5 950,598 C948,606.7 942.2,633 938,650 C933.8,667 929.2,683.3 925,700 C920.8,716.7 918,734.5 913,750 C908,765.5 903,777.7 895,793 C887,808.3 874.2,830.3 865,842 C855.8,853.7 844.2,859.5 840,863 C831.7,867.2 808.3,881.8 790,888 C771.7,894.2 751.7,899.3 730,900 C708.3,900.7 679.2,897 660,892 C640.8,887 622.5,873.7 615,870 C614.2,860 609.2,830 610,810 C610.8,790 615.3,769.2 620,750 C624.7,730.8 635,704.2 638,695 Z" fill="url(#lg70)"/>
<g clip-path="url(#cp68)"><ellipse cx="880" cy="785" rx="18" ry="42" transform="rotate(40 880 785)" fill="url(#rg71)"/><ellipse cx="842" cy="828" rx="26" ry="13" transform="rotate(-30 842 828)" fill="url(#rg72)"/><ellipse cx="905" cy="700" rx="20" ry="50" transform="rotate(35 905 700)" fill="url(#rg73)"/><ellipse cx="690" cy="885" rx="150" ry="62" fill="url(#rg74)"/></g>
<path d="M672,767 C677.2,769.5 690.5,778.5 703,782 C715.5,785.5 732.8,788.3 747,788 C761.2,787.7 776.3,785.2 788,780 C799.7,774.8 812.2,760.8 817,757" fill="none" stroke="#c4c4c4" stroke-width="2" stroke-opacity="0.65"/>
<rect x="600" y="590" width="360" height="320" filter="url(#nzw)" clip-path="url(#cp68)" opacity="0.16"/>
<rect x="600" y="590" width="360" height="320" filter="url(#nzk)" clip-path="url(#cp68)" opacity="0.2"/>
<path d="M594,912 C600,902 612,896 623,898 C624,905 623,915 621,925 L615,958 L590,960 L594,935 C596,925 596,918 594,912 Z" fill="url(#lg75)"/>
<path d="M603,908 L599,958 M612,903 L607,958" stroke="#555" stroke-width="1.4" fill="none" stroke-opacity="0.6"/>
<path d="M560,930 C572,925 582,935 588,950 M575,905 C582,915 586,930 588,945" stroke="#8a8a8a" stroke-width="3" fill="none" stroke-opacity="0.45"/>
<path d="M267,808 C269.2,811.7 272.5,820.2 280,830 C287.5,839.8 299.5,854.5 312,867 C324.5,879.5 339.5,894.5 355,905 C370.5,915.5 388.3,922.5 405,930 C421.7,937.5 438.3,944.8 455,950 C471.7,955.2 480.8,958.3 505,961 C529.2,963.7 570.8,966.5 600,966 C629.2,965.5 656.7,961.3 680,958 C703.3,954.7 724.5,950.3 740,946 C755.5,941.7 761.3,937.7 773,932 C784.7,926.3 798.8,919.5 810,912 C821.2,904.5 829.5,895.5 840,887 C850.5,878.5 861.8,872.2 873,861 C884.2,849.8 898.7,831.3 907,820 C915.3,808.7 918,801.3 923,793 C928,784.7 934.7,773.8 937,770 L937,770 C931.7,778.7 915,806.2 905,822 C895,837.8 885,853.7 877,865 C869,876.3 864.3,881.7 857,890 C849.7,898.3 841.3,905.5 833,915 C824.7,924.5 817,937 807,947 C797,957 784.2,966.7 773,975 C761.8,983.3 752.2,990 740,997 C727.8,1004 713.3,1011.7 700,1017 C686.7,1022.3 675,1026 660,1029 C645,1032 626.7,1034.8 610,1035 C593.3,1035.2 578.3,1033.2 560,1030 C541.7,1026.8 518.3,1021.3 500,1016 C481.7,1010.7 466.7,1005.2 450,998 C433.3,990.8 416.7,984 400,973 C383.3,962 362.5,943.3 350,932 C337.5,920.7 333.3,914.7 325,905 C316.7,895.3 307,884.8 300,874 C293,863.2 288.5,851 283,840 C277.5,829 269.7,813.3 267,808 Z" fill="url(#lg76)"/>
<path d="M267,808 C269.2,811.7 272.5,820.2 280,830 C287.5,839.8 299.5,854.5 312,867 C324.5,879.5 339.5,894.5 355,905 C370.5,915.5 388.3,922.5 405,930 C421.7,937.5 438.3,944.8 455,950 C471.7,955.2 480.8,958.3 505,961 C529.2,963.7 570.8,966.5 600,966 C629.2,965.5 656.7,961.3 680,958 C703.3,954.7 724.5,950.3 740,946 C755.5,941.7 761.3,937.7 773,932 C784.7,926.3 798.8,919.5 810,912 C821.2,904.5 829.5,895.5 840,887 C850.5,878.5 861.8,872.2 873,861 C884.2,849.8 898.7,831.3 907,820 C915.3,808.7 918,801.3 923,793 C928,784.7 934.7,773.8 937,770 L937,770 C931.7,778.7 915,806.2 905,822 C895,837.8 885,853.7 877,865 C869,876.3 864.3,881.7 857,890 C849.7,898.3 841.3,905.5 833,915 C824.7,924.5 817,937 807,947 C797,957 784.2,966.7 773,975 C761.8,983.3 752.2,990 740,997 C727.8,1004 713.3,1011.7 700,1017 C686.7,1022.3 675,1026 660,1029 C645,1032 626.7,1034.8 610,1035 C593.3,1035.2 578.3,1033.2 560,1030 C541.7,1026.8 518.3,1021.3 500,1016 C481.7,1010.7 466.7,1005.2 450,998 C433.3,990.8 416.7,984 400,973 C383.3,962 362.5,943.3 350,932 C337.5,920.7 333.3,914.7 325,905 C316.7,895.3 307,884.8 300,874 C293,863.2 288.5,851 283,840 C277.5,829 269.7,813.3 267,808 Z" fill="url(#hatch)" fill-opacity="0.62"/>
<path d="M267,808 C269.2,811.7 272.5,820.2 280,830 C287.5,839.8 299.5,854.5 312,867 C324.5,879.5 339.5,894.5 355,905 C370.5,915.5 388.3,922.5 405,930 C421.7,937.5 438.3,944.8 455,950 C471.7,955.2 480.8,958.3 505,961 C529.2,963.7 570.8,966.5 600,966 C629.2,965.5 656.7,961.3 680,958 C703.3,954.7 724.5,950.3 740,946 C755.5,941.7 761.3,937.7 773,932 C784.7,926.3 798.8,919.5 810,912 C821.2,904.5 829.5,895.5 840,887 C850.5,878.5 861.8,872.2 873,861 C884.2,849.8 898.7,831.3 907,820 C915.3,808.7 918,801.3 923,793 C928,784.7 934.7,773.8 937,770 L937,770 C931.7,778.7 915,806.2 905,822 C895,837.8 885,853.7 877,865 C869,876.3 864.3,881.7 857,890 C849.7,898.3 841.3,905.5 833,915 C824.7,924.5 817,937 807,947 C797,957 784.2,966.7 773,975 C761.8,983.3 752.2,990 740,997 C727.8,1004 713.3,1011.7 700,1017 C686.7,1022.3 675,1026 660,1029 C645,1032 626.7,1034.8 610,1035 C593.3,1035.2 578.3,1033.2 560,1030 C541.7,1026.8 518.3,1021.3 500,1016 C481.7,1010.7 466.7,1005.2 450,998 C433.3,990.8 416.7,984 400,973 C383.3,962 362.5,943.3 350,932 C337.5,920.7 333.3,914.7 325,905 C316.7,895.3 307,884.8 300,874 C293,863.2 288.5,851 283,840 C277.5,829 269.7,813.3 267,808 Z" fill="url(#lg77)"/>
<path d="M267,808 C269.7,813.3 277.5,829 283,840 C288.5,851 293,863.2 300,874 C307,884.8 316.7,895.3 325,905 C333.3,914.7 337.5,920.7 350,932 C362.5,943.3 383.3,962 400,973 C416.7,984 433.3,990.8 450,998 C466.7,1005.2 481.7,1010.7 500,1016 C518.3,1021.3 541.7,1026.8 560,1030 C578.3,1033.2 593.3,1035.2 610,1035 C626.7,1034.8 645,1032 660,1029 C675,1026 686.7,1022.3 700,1017 C713.3,1011.7 727.8,1004 740,997 C752.2,990 761.8,983.3 773,975 C784.2,966.7 797,957 807,947 C817,937 824.7,924.5 833,915 C841.3,905.5 849.7,898.3 857,890 C864.3,881.7 869,876.3 877,865 C885,853.7 895,837.8 905,822 C915,806.2 931.7,778.7 937,770" fill="none" stroke="#000" stroke-width="8" stroke-opacity="0.35"/>
<path d="M267,808 C269.7,813.3 277.5,829 283,840 C288.5,851 293,863.2 300,874 C307,884.8 316.7,895.3 325,905 C333.3,914.7 337.5,920.7 350,932 C362.5,943.3 383.3,962 400,973 C416.7,984 433.3,990.8 450,998 C466.7,1005.2 481.7,1010.7 500,1016 C518.3,1021.3 541.7,1026.8 560,1030 C578.3,1033.2 593.3,1035.2 610,1035 C626.7,1034.8 645,1032 660,1029 C675,1026 686.7,1022.3 700,1017 C713.3,1011.7 727.8,1004 740,997 C752.2,990 761.8,983.3 773,975 C784.2,966.7 797,957 807,947 C817,937 824.7,924.5 833,915 C841.3,905.5 849.7,898.3 857,890 C864.3,881.7 869,876.3 877,865 C885,853.7 895,837.8 905,822 C915,806.2 931.7,778.7 937,770" fill="none" stroke="#000" stroke-width="3.5" stroke-opacity="0.7"/>
<path d="M250,777 C252.8,782.2 262,799.2 267,808 C272,816.8 272.5,820.2 280,830 C287.5,839.8 299.5,854.5 312,867 C324.5,879.5 339.5,894.5 355,905 C370.5,915.5 388.3,922.5 405,930 C421.7,937.5 438.3,944.8 455,950 C471.7,955.2 480.8,958.3 505,961 C529.2,963.7 570.8,966.5 600,966 C629.2,965.5 656.7,961.3 680,958 C703.3,954.7 724.5,950.3 740,946 C755.5,941.7 761.3,937.7 773,932 C784.7,926.3 798.8,919.5 810,912 C821.2,904.5 829.5,895.5 840,887 C850.5,878.5 861.8,872.2 873,861 C884.2,849.8 898.7,831.3 907,820 C915.3,808.7 918,801.3 923,793 C928,784.7 932.5,780 937,770 C941.5,760 947.8,739.2 950,733" fill="none" stroke="#000" stroke-width="9" stroke-dasharray="1.5 1.7" transform="translate(0,1.5)"/>
<path d="M250,777 C252.8,782.2 262,799.2 267,808 C272,816.8 272.5,820.2 280,830 C287.5,839.8 299.5,854.5 312,867 C324.5,879.5 339.5,894.5 355,905 C370.5,915.5 388.3,922.5 405,930 C421.7,937.5 438.3,944.8 455,950 C471.7,955.2 480.8,958.3 505,961 C529.2,963.7 570.8,966.5 600,966 C629.2,965.5 656.7,961.3 680,958 C703.3,954.7 724.5,950.3 740,946 C755.5,941.7 761.3,937.7 773,932 C784.7,926.3 798.8,919.5 810,912 C821.2,904.5 829.5,895.5 840,887 C850.5,878.5 861.8,872.2 873,861 C884.2,849.8 898.7,831.3 907,820 C915.3,808.7 918,801.3 923,793 C928,784.7 932.5,780 937,770 C941.5,760 947.8,739.2 950,733" fill="none" stroke="#000" stroke-width="5" transform="translate(0,-2.5)"/>
<path d="M455,950 C463.3,951.8 480.8,958.3 505,961 C529.2,963.7 570.8,966.5 600,966 C629.2,965.5 656.7,961.3 680,958 C703.3,954.7 730,948 740,946" fill="none" stroke="#000" stroke-width="16" stroke-dasharray="1.6 2.0" transform="translate(0,5)" stroke-opacity="0.85"/>
<g clip-path="url(#cpSil)"><path d="M228,675 C228.8,681.7 229.3,698 233,715 C236.7,732 244.3,761.5 250,777 C255.7,792.5 264.2,802.8 267,808" fill="none" stroke="#2c2c2c" stroke-width="22" stroke-dasharray="1.2 2.3" transform="translate(12,2)"/></g>
<g clip-path="url(#cpSil)"><path d="M228,675 C228.8,681.7 229.3,698 233,715 C236.7,732 244.3,761.5 250,777 C255.7,792.5 264.2,802.8 267,808" fill="none" stroke="#444" stroke-width="7" stroke-dasharray="1.2 2.3" transform="translate(4,0)"/></g>
<g clip-path="url(#cpSil)"><path d="M937,770 C939.2,763.8 946.7,744.7 950,733 C953.3,721.3 955.3,711 957,700 C958.7,689 959.5,672.5 960,667" fill="none" stroke="#2a2a2a" stroke-width="22" stroke-dasharray="1.2 2.3" transform="translate(-12,2)"/></g>
<g clip-path="url(#cpSil)"><path d="M937,770 C939.2,763.8 946.7,744.7 950,733 C953.3,721.3 955.3,711 957,700 C958.7,689 959.5,672.5 960,667" fill="none" stroke="#404040" stroke-width="7" stroke-dasharray="1.2 2.3" transform="translate(-4,0)"/></g>
<path d="M332,1200 C340.3,1189.2 365,1157.5 382,1135 C399,1112.5 418.2,1086.3 434,1065 C449.8,1043.7 466.7,1020.3 477,1007 C487.3,993.7 488.8,994.5 496,985 C503.2,975.5 510.7,961.8 520,950 C529.3,938.2 542,924.2 552,914 C562,903.8 571.3,894.7 580,889 C588.7,883.3 597.7,880.5 604,880 C610.3,879.5 614.8,883 618,886 C621.2,889 622.2,896 623,898 L610,906 L594,912 C591.7,915 587,921 580,930 C573,939 561.3,953.3 552,966 C542.7,978.7 533.2,990 524,1006 C514.8,1022 510.3,1041.3 497,1062 C483.7,1082.7 462.5,1107 444,1130 C425.5,1153 395.7,1188.3 386,1200 Z" fill="url(#lg78)"/>
<path d="M332,1200 C340.3,1189.2 365,1157.5 382,1135 C399,1112.5 418.2,1086.3 434,1065 C449.8,1043.7 466.7,1020.3 477,1007 C487.3,993.7 488.8,994.5 496,985 C503.2,975.5 510.7,961.8 520,950 C529.3,938.2 542,924.2 552,914 C562,903.8 571.3,894.7 580,889 C588.7,883.3 597.7,880.5 604,880 C610.3,879.5 614.8,883 618,886 C621.2,889 622.2,896 623,898 L610,906 L594,912 C591.7,915 587,921 580,930 C573,939 561.3,953.3 552,966 C542.7,978.7 533.2,990 524,1006 C514.8,1022 510.3,1041.3 497,1062 C483.7,1082.7 462.5,1107 444,1130 C425.5,1153 395.7,1188.3 386,1200 Z" fill="url(#rg79)"/>
<path d="M341.7,1200 C343.6,1197.6 349.3,1190.3 353.1,1185.4 C356.8,1180.6 360.6,1175.7 364.4,1170.9 C368.2,1166 371.9,1161.2 375.7,1156.3 C379.5,1151.4 383.3,1146.6 387.1,1141.7 C390.8,1136.9 394.5,1132 398.2,1127 C402,1122.1 405.7,1117.2 409.4,1112.3 C413,1107.4 416.7,1102.5 420.4,1097.5 C424.1,1092.6 427.8,1087.7 431.5,1082.8 C435.2,1077.8 438.8,1072.9 442.5,1068 C446.2,1063.1 449.9,1058.1 453.6,1053.2 C457.3,1048.3 461,1043.4 464.6,1038.4 C468.3,1033.4 471.8,1028.4 475.4,1023.4 C479,1018.5 482.5,1013.5 486.3,1008.6 C490,1003.7 494.1,999.2 497.7,994.2 C501.3,989.3 504.6,984.1 508,979 C511.4,973.9 514.7,968.6 518.3,963.7 C521.9,958.7 525.8,953.9 529.7,949.2 C533.6,944.5 537.7,939.8 541.7,935.2 C545.8,930.6 549.6,925.8 553.9,921.4 C558.2,917 562.8,912.8 567.3,908.7 C571.8,904.6 576.1,900.1 581.1,896.8 C586.2,893.5 592.1,890.1 597.5,889.1 C602.9,888.1 611,890.4 613.7,890.7" fill="none" stroke="#8c8c8c" stroke-width="1.6" stroke-opacity="0.5"/>
<path d="M350.4,1200 C352.2,1197.7 357.7,1190.6 361.4,1185.9 C365.1,1181.3 368.8,1176.6 372.5,1171.9 C376.1,1167.2 379.8,1162.5 383.5,1157.8 C387.2,1153.2 390.9,1148.5 394.6,1143.8 C398.2,1139.1 401.9,1134.4 405.5,1129.6 C409.1,1124.9 412.8,1120.2 416.4,1115.4 C420,1110.7 423.5,1105.9 427.1,1101.2 C430.7,1096.4 434.3,1091.6 437.9,1086.9 C441.5,1082.1 445.1,1077.4 448.6,1072.6 C452.2,1067.8 455.8,1063.1 459.4,1058.3 C463,1053.6 466.7,1048.8 470.1,1044 C473.6,1039.2 477,1034.3 480.4,1029.4 C483.7,1024.5 487,1019.6 490.4,1014.7 C493.9,1009.9 497.6,1005.3 501,1000.4 C504.3,995.6 507.3,990.4 510.5,985.4 C513.8,980.4 516.9,975.4 520.4,970.5 C523.8,965.7 527.6,961.1 531.3,956.4 C535,951.8 538.9,947.2 542.7,942.7 C546.5,938.1 550.3,933.5 554.3,929.1 C558.3,924.7 562.7,920.6 566.9,916.5 C571.2,912.4 575.3,908 579.9,904.5 C584.6,901.1 590,897.6 595,895.9 C600,894.3 607.4,895 609.8,894.8" fill="none" stroke="#f6f6f6" stroke-width="1.6" stroke-opacity="0.5"/>
<path d="M359,1200 C360.8,1197.7 366.2,1191 369.8,1186.5 C373.4,1181.9 377,1177.4 380.5,1172.9 C384.1,1168.4 387.7,1163.9 391.3,1159.4 C394.9,1154.9 398.5,1150.4 402.1,1145.8 C405.7,1141.3 409.2,1136.8 412.8,1132.2 C416.3,1127.7 419.9,1123.1 423.4,1118.6 C426.9,1114 430.4,1109.4 433.8,1104.8 C437.3,1100.2 440.8,1095.6 444.3,1091 C447.8,1086.4 451.3,1081.8 454.8,1077.2 C458.2,1072.6 461.7,1068 465.2,1063.4 C468.7,1058.8 472.3,1054.3 475.7,1049.6 C479,1045 482.2,1040.2 485.3,1035.4 C488.5,1030.6 491.4,1025.7 494.6,1020.9 C497.7,1016.1 501.1,1011.5 504.2,1006.7 C507.3,1001.8 510,996.8 513.1,991.9 C516.1,987 519.2,982.1 522.5,977.4 C525.8,972.7 529.4,968.2 532.9,963.6 C536.4,959.1 540.1,954.6 543.7,950.1 C547.3,945.7 550.9,941.1 554.7,936.8 C558.5,932.5 562.6,928.4 566.6,924.3 C570.6,920.2 574.4,915.9 578.7,912.3 C583,908.7 587.9,905 592.4,902.8 C597,900.6 603.7,899.6 606,899" fill="none" stroke="#9a9a9a" stroke-width="1.6" stroke-opacity="0.5"/>
<path d="M367.6,1200 C369.4,1197.8 374.6,1191.3 378.1,1187 C381.6,1182.6 385.1,1178.3 388.6,1173.9 C392.1,1169.6 395.6,1165.3 399.1,1160.9 C402.6,1156.6 406.1,1152.2 409.6,1147.9 C413.1,1143.5 416.6,1139.2 420,1134.8 C423.5,1130.5 427,1126.1 430.4,1121.7 C433.8,1117.3 437.2,1112.8 440.6,1108.4 C443.9,1104 447.3,1099.6 450.7,1095.1 C454.1,1090.7 457.5,1086.3 460.9,1081.8 C464.3,1077.4 467.7,1073 471,1068.6 C474.4,1064.1 478,1059.8 481.2,1055.3 C484.4,1050.7 487.4,1046 490.3,1041.3 C493.2,1036.6 495.9,1031.7 498.7,1027 C501.6,1022.3 504.6,1017.6 507.4,1012.9 C510.3,1008.1 512.8,1003.1 515.6,998.4 C518.5,993.6 521.4,988.8 524.6,984.3 C527.7,979.7 531.1,975.3 534.5,970.8 C537.9,966.4 541.3,962 544.7,957.6 C548.1,953.2 551.5,948.8 555.1,944.5 C558.7,940.3 562.5,936.2 566.2,932.1 C570,928 573.6,923.8 577.5,920 C581.5,916.3 585.8,912.5 589.9,909.7 C594,906.8 600.1,904.2 602.2,903.2" fill="none" stroke="#f2f2f2" stroke-width="1.6" stroke-opacity="0.5"/>
<path d="M376.3,1200 C378,1197.9 383.1,1191.7 386.5,1187.5 C389.9,1183.3 393.3,1179.1 396.7,1175 C400.1,1170.8 403.5,1166.6 406.9,1162.5 C410.3,1158.3 413.7,1154.1 417.1,1149.9 C420.5,1145.8 423.9,1141.6 427.3,1137.4 C430.7,1133.2 434.1,1129.1 437.4,1124.8 C440.7,1120.6 444,1116.3 447.3,1112 C450.6,1107.8 453.8,1103.5 457.1,1099.3 C460.4,1095 463.7,1090.7 467,1086.5 C470.3,1082.2 473.6,1077.9 476.9,1073.7 C480.1,1069.4 483.7,1065.3 486.7,1060.9 C489.8,1056.5 492.6,1051.9 495.3,1047.3 C498,1042.7 500.3,1037.8 502.9,1033.1 C505.5,1028.4 508.1,1023.8 510.7,1019.1 C513.2,1014.4 515.5,1009.5 518.2,1004.8 C520.9,1000.2 523.7,995.6 526.7,991.1 C529.6,986.7 532.9,982.4 536.1,978 C539.3,973.7 542.4,969.4 545.7,965.1 C548.9,960.8 552.1,956.4 555.5,952.3 C558.9,948.1 562.4,944 565.9,939.9 C569.3,935.9 572.7,931.7 576.3,927.8 C579.9,923.9 583.7,919.9 587.3,916.5 C591,913.1 596.5,908.9 598.3,907.3" fill="none" stroke="#949494" stroke-width="1.6" stroke-opacity="0.5"/>
</g>
<g id="leaders">
<line x1="610" y1="138" x2="556" y2="426" stroke="url(#lg80)" stroke-width="2.3"/>
<circle cx="555.5" cy="426" r="10.5" fill="#9b9b9b"/>
<line x1="207" y1="181.7" x2="350" y2="337" stroke="#444444" stroke-width="2.3"/>
<circle cx="350" cy="337" r="10.5" fill="#444444"/>
<line x1="1032" y1="181.5" x2="897.5" y2="380" stroke="#444444" stroke-width="2.3"/>
<circle cx="897.5" cy="380" r="10.5" fill="#444444"/>
<line x1="127" y1="987.5" x2="309.5" y2="894" stroke="#444444" stroke-width="2.3"/>
<circle cx="309.5" cy="894" r="10.5" fill="#444444"/>
<line x1="278" y1="1090.5" x2="501" y2="998" stroke="#444444" stroke-width="2.3"/>
<circle cx="501" cy="998" r="10.5" fill="#444444"/>
<line x1="1040" y1="1011.7" x2="818" y2="921.7" stroke="#444444" stroke-width="2.3"/>
<circle cx="818" cy="921.7" r="10.5" fill="#444444"/>
</g>
<g id="buttons">
<rect x="41" y="323" width="171" height="57" rx="15" ry="15" fill="#874100"/><text x="80.5" y="358" font-family="'Liberation Sans', sans-serif" font-size="17.4" font-weight="400" fill="#ffffff" textLength="91" lengthAdjust="spacingAndGlyphs">BROWN</text>
<rect x="41" y="705" width="171" height="57" rx="15" ry="15" fill="#ff8f0f"/><text x="76" y="740" font-family="'Liberation Sans', sans-serif" font-size="17.4" font-weight="400" fill="#ffffff" textLength="101" lengthAdjust="spacingAndGlyphs">ORANGE</text>
<rect x="983" y="324" width="171" height="57" rx="15" ry="15" fill="#07b207"/><text x="1028" y="359" font-family="'Liberation Sans', sans-serif" font-size="17.4" font-weight="400" fill="#ffffff" textLength="80" lengthAdjust="spacingAndGlyphs">GREEN</text>
<rect x="983" y="706" width="171" height="57" rx="15" ry="15" fill="#0879f2"/><text x="1038" y="741" font-family="'Liberation Sans', sans-serif" font-size="17.4" font-weight="400" fill="#ffffff" textLength="61" lengthAdjust="spacingAndGlyphs">BLUE</text>
</g>
<g id="labels" style="filter:grayscale(1)">
<text x="510.5" y="127.5" font-family="'Liberation Sans', sans-serif" font-size="17.4" font-weight="400" fill="#484848" textLength="186" lengthAdjust="spacingAndGlyphs">AL-MYLAR FOIL</text>
<text x="117.5" y="165.3" font-family="'Liberation Sans', sans-serif" font-size="17.4" font-weight="400" fill="#484848" textLength="158.5" lengthAdjust="spacingAndGlyphs">CONDUCTOR</text>
<text x="998.5" y="169.5" font-family="'Liberation Sans', sans-serif" font-size="17.4" font-weight="400" fill="#484848" textLength="144" lengthAdjust="spacingAndGlyphs">INSULATION</text>
<text x="79" y="1007" font-family="'Liberation Sans', sans-serif" font-size="17.4" font-weight="400" fill="#484848" textLength="94.5" lengthAdjust="spacingAndGlyphs">JACKET</text>
<text x="195.5" y="1114" font-family="'Liberation Sans', sans-serif" font-size="17.4" font-weight="400" fill="#484848" textLength="159.5" lengthAdjust="spacingAndGlyphs">NYLON ROPE</text>
<text x="964" y="1035.3" font-family="'Liberation Sans', sans-serif" font-size="17.4" font-weight="400" fill="#484848" textLength="198.7" lengthAdjust="spacingAndGlyphs">TINNED COPPER</text>
<text x="1005" y="1054" font-family="'Liberation Sans', sans-serif" font-size="17.4" font-weight="400" fill="#484848" textLength="116.7" lengthAdjust="spacingAndGlyphs">BRAIDING</text>
</g>
</svg>
</body>
</html>
